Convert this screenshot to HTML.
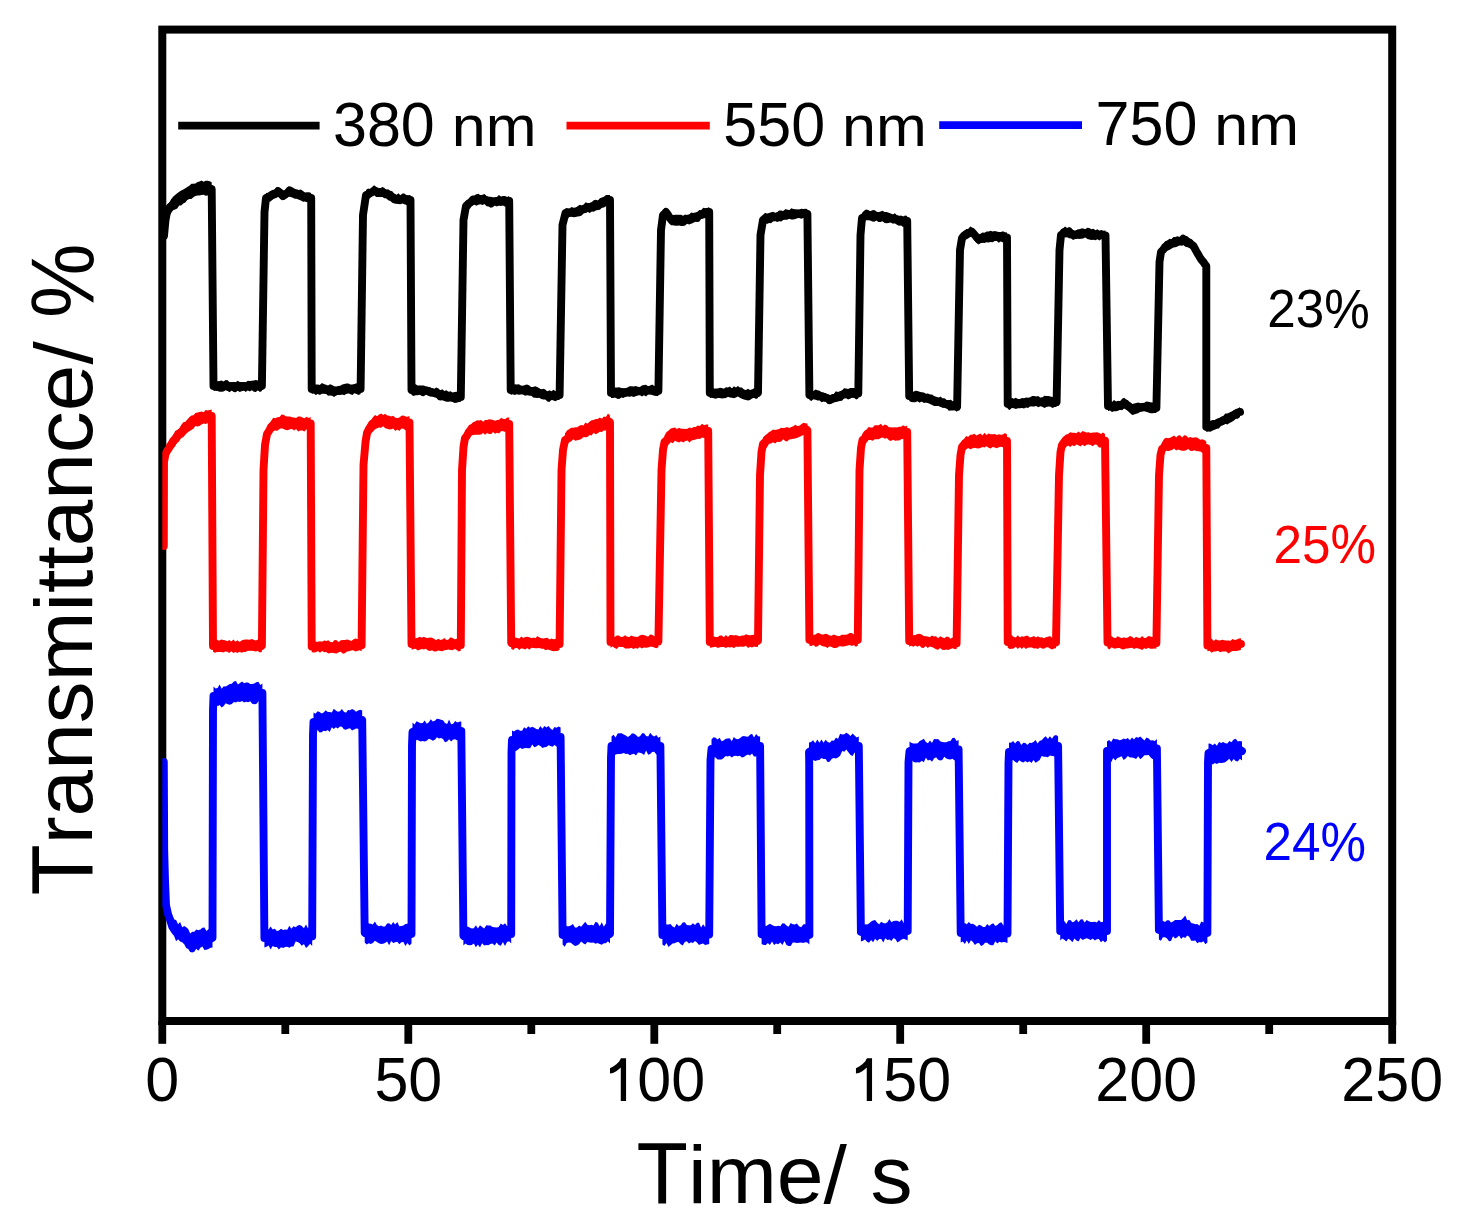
<!DOCTYPE html>
<html><head><meta charset="utf-8"><style>
html,body{margin:0;padding:0;background:#fff;overflow:hidden;width:1458px;height:1225px;}
svg{display:block;}
text{font-family:"Liberation Sans",sans-serif;font-kerning:none;}
</style></head><body>
<svg width="1458" height="1225" viewBox="0 0 1458 1225">
<rect width="1458" height="1225" fill="#fff"/>
<g fill="none" stroke="#000" stroke-width="8.0">
<rect x="162.3" y="29.6" width="1229.9" height="991.4"/>
</g>
<g stroke="#000" stroke-width="7.8" stroke-linecap="butt">
<line x1="162.3" y1="1021" x2="162.3" y2="1043.8"/><line x1="285.3" y1="1021" x2="285.3" y2="1034"/><line x1="408.3" y1="1021" x2="408.3" y2="1043.8"/><line x1="531.3" y1="1021" x2="531.3" y2="1034"/><line x1="654.3" y1="1021" x2="654.3" y2="1043.8"/><line x1="777.2" y1="1021" x2="777.2" y2="1034"/><line x1="900.2" y1="1021" x2="900.2" y2="1043.8"/><line x1="1023.2" y1="1021" x2="1023.2" y2="1034"/><line x1="1146.2" y1="1021" x2="1146.2" y2="1043.8"/><line x1="1269.2" y1="1021" x2="1269.2" y2="1034"/><line x1="1392.2" y1="1021" x2="1392.2" y2="1043.8"/>
</g>
<g font-size="61" fill="#000">
<text transform="translate(162.3 1101.1) scale(1 1.04)" text-anchor="middle">0</text><text transform="translate(408.3 1101.1) scale(1 1.04)" text-anchor="middle">50</text><polygon points="626.07,1101.10 620.77,1101.10 620.77,1067.50 618.87,1069.20 615.87,1071.50 612.87,1073.00 609.97,1073.60 609.97,1068.20 613.17,1066.60 616.37,1064.20 619.17,1061.40 620.97,1058.30 626.07,1058.30"/><text transform="translate(637.30 1101.1) scale(1 1.04)">00</text><polygon points="872.05,1101.10 866.75,1101.10 866.75,1067.50 864.85,1069.20 861.85,1071.50 858.85,1073.00 855.95,1073.60 855.95,1068.20 859.15,1066.60 862.35,1064.20 865.15,1061.40 866.95,1058.30 872.05,1058.30"/><text transform="translate(883.28 1101.1) scale(1 1.04)">50</text><text transform="translate(1146.2 1101.1) scale(1 1.04)" text-anchor="middle">200</text><text transform="translate(1392.2 1101.1) scale(1 1.04)" text-anchor="middle">250</text>
</g>
<text transform="translate(636.50 1202.90) scale(1 1.04)" font-size="84.2" fill="#000">T</text><text transform="translate(687.93 1202.90) scale(1 0.975)" font-size="84.2" fill="#000">ime</text><text transform="translate(823.61 1202.90) scale(1 0.977)" font-size="84.2" fill="#000">/</text><text transform="translate(870.39 1202.90) scale(1 0.975)" font-size="84.2" fill="#000">s</text>
<text transform="translate(92 895.5) rotate(-90) translate(0.00 0.0) scale(1 1.04)" font-size="83.8" fill="#000">T</text><text transform="translate(92 895.5) rotate(-90) translate(51.19 0.0) scale(1 0.975)" font-size="83.8" fill="#000">ransmittance</text><text transform="translate(92 895.5) rotate(-90) translate(530.91 0.0) scale(1 0.977)" font-size="83.8" fill="#000">/</text><text transform="translate(92 895.5) rotate(-90) translate(577.48 0.8) scale(1 1.07)" font-size="83.8" fill="#000">%</text>
<defs><clipPath id="pa"><rect x="162.3" y="29.6" width="1229.9" height="991.4"/></clipPath></defs>
<g clip-path="url(#pa)">
<g fill="none" stroke-width="7.9" stroke-linejoin="round" stroke-linecap="round">
<path stroke="#000" d="M164 236 L165.5 220 L167 212 L168.5 209.2 L170 207 L171.5 205.9 L173 204.5 L174.5 202.7 L176 201.5 L177.5 200.5 L179 199.5 L180.5 198.6 L182 197.5 L183.5 196.7 L185 195.2 L186.5 194.1 L188 193.5 L189.5 192.8 L191 191.6 L192.5 190.9 L194 189.8 L195.5 189 L197 189 L198.5 188.9 L200 188.3 L201.8 188.1 L203.5 188.8 L205.2 188.8 L207 188.5 L208.6 188.3 L210.1 188.5 L211.7 189 L213.5 386 L215.1 386 L216.8 386.4 L218.4 385.9 L220.1 385.8 L221.7 386 L223.3 386 L224.9 385.8 L226.5 386 L228.1 386.2 L229.6 386.3 L231.2 386.2 L232.8 386.3 L234.4 386.3 L236 386.6 L237.6 386.5 L239.2 386.3 L240.8 386 L242.4 386.6 L244.1 386.3 L245.7 386.3 L247.3 385.9 L248.9 386.5 L250.5 386 L252.1 386.3 L253.8 385.7 L255.4 385.9 L257 386.2 L258.6 386.2 L260.3 386.3 L261.9 386 L264.5 212 L266 198 L267.5 197.2 L269 196.8 L270.5 195.9 L272 194.9 L273.5 194.4 L275 193.6 L276.5 192.9 L278 191.5 L279.8 193.2 L281.7 194.3 L283.5 195.7 L285.3 194.5 L287.2 192.9 L289 192 L290.6 192.1 L292.1 192.9 L293.7 193 L295.3 193.4 L296.9 193.7 L298.4 194.5 L300 195 L302 196.1 L304 196.8 L305.8 197.2 L307.6 197.3 L309.4 197.7 L311.2 198 L311.7 389 L313.2 389 L314.8 389.2 L316.3 389 L317.9 388.9 L319.4 389 L321 388.6 L322.5 389 L324.1 388.9 L325.6 389.7 L327.2 390.1 L328.8 390.1 L330.3 390.2 L331.9 390.2 L333.4 390.8 L335 391 L336.6 391.2 L338.1 390.8 L339.7 390.4 L341.2 390.4 L342.8 389.7 L344.3 389.7 L345.9 389.8 L347.4 389.3 L349 389 L350.7 389 L352.3 388.8 L354 389 L355.6 389.4 L357.3 388.6 L358.9 389.2 L360.6 389 L363 215 L366 195 L367.6 194.5 L369.2 193.7 L370.8 192.8 L372.4 192 L374 191 L375.5 191.3 L377 191.7 L378.5 191.9 L380 191.9 L381.5 192.9 L383 193 L384.5 193 L386 193.6 L387.5 194.4 L389 195.2 L390.5 195.9 L392.1 196.7 L393.6 197.7 L395.1 198.6 L396.6 199.3 L398.3 199.4 L400.1 199.3 L401.8 198.9 L403.5 199.1 L405.3 199 L407 199.3 L408.8 199.7 L410.5 200 L411.5 390 L413.1 390.3 L414.8 390.2 L416.4 390.2 L418.1 390.3 L419.7 389.8 L421.4 390.3 L423 390 L424.5 390.5 L426 390.5 L427.5 390.8 L429 391.2 L430.5 392.2 L432 392.2 L433.5 392.5 L435 393.3 L436.5 393.5 L438 394 L439.6 394 L441.1 394.4 L442.7 395 L444.2 395.1 L445.8 395.5 L447.3 396.2 L448.9 396.3 L450.4 396.5 L452 397 L453.8 397 L455.5 396.6 L457.3 396.9 L459 396.9 L460.8 397 L463.5 220 L466 206 L467.5 204.5 L469 203.2 L470.5 202.6 L472 201 L473.7 200.7 L475.3 200.1 L477 200.1 L478.7 199.9 L480.3 198.9 L482 199 L483.5 199.1 L485 199.7 L486.5 200.6 L488 200.6 L489.5 201.5 L491 201.8 L492.7 201.8 L494.3 201.6 L496 201.2 L497.7 201.6 L499.3 201.4 L501 201 L502.6 201 L504.3 200.8 L505.9 201.1 L507.6 200.9 L509.2 201 L510.7 390 L512.3 390.1 L513.9 389.9 L515.5 390.1 L517.2 389.6 L518.8 389.8 L520.4 390.4 L522 390 L523.6 390.5 L525.1 390.3 L526.7 391 L528.2 390.7 L529.8 391.5 L531.3 391.5 L532.9 391.5 L534.4 391.6 L536 392 L537.6 392.1 L539.2 393.3 L540.9 393.1 L542.5 394.3 L544.1 394.9 L545.8 395.1 L547.4 395.2 L549 396 L550.5 396.2 L552 396.1 L553.5 395.7 L555.1 395.4 L556.6 395.2 L558.1 395 L559.6 395 L562.5 225 L565.5 213 L567.1 212.7 L568.7 212.9 L570.3 212.6 L571.9 212.4 L573.5 212.5 L575 211.7 L576.6 211.6 L578.1 210.8 L579.6 210.4 L581.2 209.7 L582.7 209.6 L584.3 209.1 L585.8 208.3 L587.3 207.5 L588.8 207.2 L590.4 206.8 L591.9 206.9 L593.4 206.3 L595 205.5 L596.5 205 L598 204.8 L599.7 204.1 L601.3 203.5 L603 202.7 L604.7 201.5 L606.3 201.1 L608 200 L610 200 L611 393 L612.7 393.1 L614.3 393 L616 393.4 L617.7 392.8 L619.3 393.2 L621 393 L622.6 392.5 L624.1 392.4 L625.7 392.8 L627.2 392 L628.8 392.3 L630.3 391.9 L631.9 392 L633.4 391.4 L635 391.3 L636.5 391.1 L638 390.9 L639.5 391.3 L641 391 L642.5 391.2 L644 391 L645.5 390.3 L647 390.5 L648.5 390.1 L650 390.3 L651.7 390.1 L653.4 390.2 L655 391 L656.7 391.1 L658.4 391 L661 230 L663 215 L664.5 213.8 L666 212 L667.5 214.1 L669 216.6 L670.5 219 L672 221 L673.5 220.8 L675 220.8 L676.5 220.4 L678 220.2 L679.5 220.2 L681 220.6 L682.5 220.2 L684.1 219.9 L685.7 219.8 L687.3 219 L688.9 218.5 L690.6 218.5 L692.2 218.1 L693.8 217.1 L695.4 217.2 L697 216.7 L698.7 215.6 L700.3 214.8 L702 214.7 L703.7 213.2 L705.3 212.6 L707 212 L709.2 212 L709.8 393 L711.3 393.4 L712.8 392.9 L714.4 392.7 L715.9 392.7 L717.4 392.8 L719 393.2 L720.5 392.7 L722 393 L723.6 393.2 L725.2 392.7 L726.8 393.1 L728.4 392.9 L730 392.3 L731.6 392.2 L733.2 392.3 L734.8 391.9 L736.4 392.2 L738 392 L739.6 392.2 L741.2 392.8 L742.8 394.2 L744.4 394.2 L746 395 L747.5 394.8 L749 394.5 L750.5 394.1 L752 393.7 L753.5 394.1 L755 393.9 L756.5 393.6 L758 393 L760.5 235 L763 220 L764.5 218.7 L766 218 L767.6 217.6 L769.1 217.8 L770.7 217.9 L772.3 217.3 L773.9 217.3 L775.4 217.1 L777 216.8 L778.5 216.3 L780 216.2 L781.5 215.7 L783 215.3 L784.5 214.8 L786 214.7 L787.5 214.9 L789 214.2 L790.6 214.1 L792.2 214.2 L793.8 214.1 L795.4 214.3 L796.9 213.8 L798.5 213.7 L800.1 213.6 L801.7 213.7 L803.6 213.7 L805.5 214.2 L807.4 214 L809.4 395 L811.1 395.3 L812.8 394.8 L814.6 394.9 L816.3 395 L818 395 L819.6 395.6 L821.1 396.2 L822.7 396.5 L824.2 396.9 L825.8 397.7 L827.4 398.1 L828.9 399.1 L830.5 399.6 L832.1 398.6 L833.6 398 L835.2 397.8 L836.8 396.8 L838.3 396.6 L839.9 395.7 L841.4 395.3 L843 394.4 L844.7 394 L846.3 394.1 L848 394.1 L849.7 393.4 L851.3 393.9 L853 393.4 L854.8 393.2 L856.5 393.7 L858.3 393.5 L860.5 235 L862 218 L864 216.9 L866 215 L867.5 215.4 L869.1 215.1 L870.6 215.1 L872.2 215.6 L873.7 215.7 L875.3 216.2 L876.9 215.9 L878.5 216.5 L880.1 216.1 L881.6 216.9 L883.2 216.4 L884.8 216.8 L886.4 217.4 L888 217.3 L889.6 217.9 L891.2 218.4 L892.8 218.8 L894.4 219.1 L896.1 219.5 L897.7 219.4 L899.3 220 L900.9 220.2 L902.5 220.9 L904.1 221.1 L905.6 221.1 L907.2 221 L909.2 396 L910.8 395.9 L912.5 395.9 L914.1 396.7 L915.7 396.6 L917.4 396.5 L919 396.6 L920.5 397 L922 397.6 L923.5 397.7 L925 398 L926.5 398.3 L928 398.7 L929.5 398.8 L931 399.6 L932.6 400.2 L934.2 400.6 L935.9 401.2 L937.5 401.3 L939.1 402 L940.8 402.4 L942.4 402.9 L944 403.7 L945.7 403.9 L947.3 404.7 L949 404.8 L950.7 405.2 L952.3 405.7 L954 406 L955.5 406.3 L957.1 407 L960 250 L962 238 L964 235.6 L966 234 L967.5 233.5 L969 233 L970.5 232.6 L972 232 L973.7 233.8 L975.4 235.8 L977 237.7 L978.7 239.3 L980.2 238.7 L981.8 238.5 L983.3 238.1 L984.9 237.5 L986.4 237.3 L987.9 237 L989.5 236.9 L991 236.2 L992.6 236.7 L994.1 236.3 L995.7 236.7 L997.2 236.3 L998.8 236.5 L1000.3 236.9 L1001.9 237.4 L1003.4 236.9 L1005 237.3 L1007 237.5 L1007.7 404 L1009.5 404.1 L1011.2 404.1 L1013 403.5 L1014.7 403.7 L1016.5 403.4 L1018.1 403.5 L1019.7 403 L1021.3 403.1 L1022.9 402.9 L1024.6 402.6 L1026.2 402.7 L1027.8 402.6 L1029.4 402.4 L1031 401.9 L1032.6 402 L1034.1 401.6 L1035.7 401.7 L1037.2 401.7 L1038.8 402 L1040.3 402.1 L1041.9 401.5 L1043.4 402 L1045 401.9 L1046.7 402.1 L1048.3 401.8 L1050 402 L1051.6 401.7 L1053.3 402.2 L1054.9 401.6 L1056.6 402 L1059.5 250 L1061 235 L1062.5 233.9 L1064 232 L1066 232.5 L1068 232.6 L1069.8 233.3 L1071.5 233.6 L1073.2 234.7 L1075 235 L1076.8 234.8 L1078.5 233.5 L1080.2 233.4 L1082 232.6 L1083.5 233.2 L1085 233.3 L1086.5 233.6 L1088.1 233.7 L1089.6 234.4 L1091.1 234.7 L1092.6 234.6 L1094.3 234.6 L1096.1 235 L1097.8 234.8 L1099.5 234.7 L1101.3 235 L1103 235.2 L1105.5 235.5 L1108 406 L1109.6 405.7 L1111.1 406.3 L1112.7 406.4 L1114.3 405.7 L1115.9 406.1 L1117.4 405.9 L1119 406 L1120.5 405.1 L1122 404.6 L1123.5 403.9 L1125 403.5 L1126.8 405.1 L1128.5 405.9 L1130.2 407.4 L1132 409 L1133.5 408.7 L1135 408.1 L1136.5 408.4 L1138 408.1 L1139.5 408 L1141 407.3 L1142.5 407.1 L1144 407 L1145.5 407.2 L1147.1 407.1 L1148.7 407.4 L1150.2 407.3 L1151.8 407.8 L1153.3 408 L1154.9 408.1 L1156.4 408 L1159.5 262 L1161 252 L1163 249.9 L1165 247 L1166.8 245.5 L1168.7 244 L1170.5 243.5 L1172.3 243.3 L1174.2 242.7 L1176 242 L1177.8 241.6 L1179.5 241.1 L1181.2 240.6 L1183 240.3 L1184.8 240.7 L1186.5 241.9 L1188.2 242 L1190 243 L1191.7 244.7 L1193.4 246 L1195 248.8 L1196.7 252 L1198.3 254.6 L1200 257.6 L1201.6 260 L1203.2 261.7 L1204.7 264 L1206.3 266 L1206.3 427 L1208.2 427.1 L1210 427 L1212 425.8 L1214 425 L1215.5 424.3 L1217 423.5 L1218.5 422.9 L1220 421.8 L1221.5 421.4 L1223 420.7 L1224.5 419.9 L1226 419.3 L1227.6 418.4 L1229.1 417.9 L1230.7 417 L1232.2 416 L1233.8 415.4 L1235.3 414.3 L1236.9 413.4 L1238.4 412.4 L1240 412"/>
<path stroke="#f00" d="M163.8 546 L164 462 L165.5 454 L167 451 L168.5 449 L170 446 L171.7 444.2 L173.3 440.8 L175 439 L176.7 436.5 L178.3 435.4 L180 433 L181.7 431.6 L183.3 429.9 L185 428 L186.7 426.4 L188.3 425.5 L190 424 L191.7 423 L193.3 421.8 L195 420.5 L196.7 419.4 L198.3 419.1 L200 418.5 L201.8 418 L203.5 418 L205.2 418 L207 417 L208.6 417.2 L210.1 416.4 L211.7 416 L213 646 L214.7 645.8 L216.5 645.5 L218.2 645.1 L220 645 L221.7 645.5 L223.3 645.6 L225 645.5 L226.6 645.7 L228.2 646.5 L229.8 646.1 L231.5 646.3 L233.1 646 L234.7 645.9 L236.4 646.4 L238 646.7 L239.6 646.2 L241.2 646.5 L242.9 647 L244.5 646.5 L246.1 645.8 L247.7 646.5 L249.4 646.3 L251 646.1 L252.6 645.7 L254.1 646.2 L255.7 646.1 L257.2 646.2 L258.8 645.7 L260.3 646.5 L261.9 646 L263.5 470 L265 445 L267 434 L269 431.1 L271 427 L272.5 425.6 L274 425.3 L275.5 424.3 L277 423 L278.6 422.7 L280.2 422.5 L281.9 422.2 L283.5 422 L285 422.7 L286.5 422.4 L288 422.9 L289.5 422.6 L291 423.4 L292.5 423.6 L294 423.2 L295.5 423.5 L297 424.1 L298.5 424.1 L300 424 L301.6 423.9 L303.2 423.5 L304.8 423.5 L306.4 423.9 L308 423.6 L310.7 423.5 L311.7 646.5 L313.3 646.1 L314.9 646.9 L316.5 646.1 L318.1 646.9 L319.8 646.1 L321.4 646.9 L323 646.6 L324.6 646.3 L326.2 646.4 L327.8 646.5 L329.4 646.8 L331 646.8 L332.6 646.6 L334.2 646.6 L335.8 647.1 L337.4 647.7 L339 647.3 L340.6 647.2 L342.2 646.3 L343.8 647 L345.4 646.6 L347 646.6 L348.6 645.5 L350.2 646 L351.8 644.9 L353.4 645.2 L355 645.4 L356.7 645 L358.3 645.1 L360 645.9 L361.6 645.5 L363.5 465 L365.5 442 L367 433 L368.7 429.5 L370.3 427 L372 424 L373.7 423.8 L375.3 422.4 L377 421.7 L378.7 421.8 L380.3 420.6 L382 420 L383.6 420.7 L385.2 420.3 L386.9 421.1 L388.5 421.3 L390.1 422.3 L391.7 422 L393.4 423.4 L395 422.7 L396.6 423.7 L398.3 423.8 L400.1 422.8 L401.8 422.9 L403.5 423.3 L405.3 422.4 L407 422.6 L409.5 422.5 L411.5 644 L413.2 643.6 L414.9 644.1 L416.6 643.7 L418.3 643.3 L420 644.4 L421.7 643.3 L423.4 643.7 L425 643.3 L426.6 643.8 L428.2 644.3 L429.8 644.7 L431.4 644.1 L433 644.5 L434.6 644.3 L436.2 645 L437.8 645.2 L439.4 645.4 L441 645.3 L442.5 645.3 L444.1 645.1 L445.7 645.1 L447.3 644.8 L448.8 644.4 L450.4 644 L452 644.2 L453.8 644.6 L455.5 644.3 L457.3 644.2 L459 644.8 L460.8 645 L462 470 L463.5 447 L465 438 L466.9 435.8 L468.7 432.2 L470.6 430 L472.5 429.5 L474.3 428.6 L476.1 428.1 L478 427.5 L479.8 426.9 L481.5 427.8 L483.2 426.8 L485 427 L486.5 427 L488 426.7 L489.5 426 L491 426.6 L492.5 425.9 L494 425.7 L495.5 425.6 L497 426 L498.5 425.3 L500 424.9 L501.5 425.3 L503.1 424.9 L504.6 425.2 L506.1 424.8 L507.6 424 L509.2 424 L511.2 643 L512.7 643.6 L514.3 642.7 L515.8 643 L517.4 642.8 L518.9 643.3 L520.5 643.3 L522 643.2 L523.6 643.5 L525.2 643.3 L526.8 642.7 L528.4 642.9 L530 643 L531.6 642.3 L533.2 642.3 L534.8 642.6 L536.4 642.7 L538 642.5 L539.6 643.4 L541.2 643.1 L542.8 643.1 L544.4 643.4 L546 643.7 L547.6 643.9 L549.2 644.5 L550.8 644.7 L552.6 644.5 L554.3 644.2 L556.1 644.5 L557.8 643.8 L559.6 644 L561.5 470 L563 450 L565 440 L566.6 439 L568.2 437.6 L569.8 435.8 L571.4 434 L573 433.5 L574.7 433.2 L576.3 432.9 L578 431.9 L579.6 432 L581.2 431.3 L582.8 430.9 L584.4 430 L586 429.3 L587.6 429.6 L589.2 428.5 L590.8 428.1 L592.4 428.1 L594 427 L595.7 426.6 L597.3 425.7 L599 426.1 L600.7 424.8 L602.3 423.9 L604 424 L606.2 422.7 L608.4 421 L610 422 L610.5 642 L612.2 641.6 L613.9 641.8 L615.6 642.5 L617.4 642.3 L619.1 641.6 L620.8 642.2 L622.4 642.1 L624 642.1 L625.6 642.2 L627.2 641.8 L628.8 642.3 L630.4 641.7 L632 641.9 L633.6 642 L635.2 642.2 L636.8 642.6 L638.4 641.5 L640 642.2 L641.6 641.4 L643.2 641.7 L644.8 641.4 L646.4 641.4 L648 641.6 L649.6 641.2 L651.4 641.1 L653.1 640.9 L654.9 640.9 L656.6 640.9 L658.4 641.5 L661.5 470 L663 450 L664.5 442 L666.3 440.4 L668.2 438.2 L670 436 L671.5 436.3 L673 435.7 L674.5 434.7 L676 435 L677.6 435.1 L679.3 435.2 L680.9 435.1 L682.5 434.8 L684.2 434.6 L685.8 434.6 L687.4 435 L689.1 434.3 L690.7 434.5 L692.2 434.1 L693.8 433.5 L695.3 433.7 L696.9 433 L698.4 432.7 L699.9 432.1 L701.5 431 L703 430.8 L704.7 430.5 L706.5 430.9 L708.2 431 L709.8 642 L711.5 641.7 L713.2 641.9 L714.9 642.2 L716.5 642.5 L718.2 642.1 L719.9 642.4 L721.6 642 L723.2 641.4 L724.9 641.6 L726.5 642.3 L728.2 641.2 L729.8 641.4 L731.4 640.9 L733.1 640.8 L734.7 641.7 L736.4 641.7 L738 641 L739.5 641.2 L741 640.6 L742.5 640.8 L744 640.7 L745.5 641.2 L747 641.2 L748.5 640.9 L750 641 L751.6 641 L753.2 640.5 L754.8 641 L756.4 641.5 L758 641 L760 475 L761.5 452 L763 444 L764.9 442.3 L766.9 439.5 L768.8 438 L770.3 437.5 L771.8 437.3 L773.4 436.2 L774.9 436.5 L776.4 435.5 L778 435.2 L779.5 434.4 L781 434 L782.7 434.6 L784.3 434.3 L786 434.1 L787.7 433.6 L789.3 433.9 L791 434 L792.5 432.9 L794 433.1 L795.5 433 L797 431.6 L798.5 431.5 L800 431 L801.9 429.5 L803.8 428 L805.6 428.9 L807.4 430 L809.4 640 L810.9 640.3 L812.5 640.5 L814 640.2 L815.6 640 L817.1 640.6 L818.7 639.8 L820.2 640 L821.8 640.5 L823.3 640.6 L824.9 641 L826.4 641.3 L828 640.7 L829.5 641.4 L831.1 641.4 L832.6 641.7 L834.2 641.7 L835.8 641.8 L837.4 641.2 L839 640.2 L840.6 640.5 L842.2 640.6 L843.8 640.6 L845.4 640.1 L847 639.7 L848.5 640.1 L850.1 639.2 L851.6 640.4 L853.2 640.1 L854.7 640 L856.3 640.4 L857.8 640 L859.5 470 L861 448 L862.5 440 L864.2 438.8 L865.9 436.2 L867.6 435 L869.1 434.9 L870.7 434.4 L872.2 433.3 L873.8 433.5 L875.4 432.9 L876.9 431.9 L878.5 432.2 L880 431.4 L881.5 431.2 L883 432.1 L884.5 432.1 L886 432.2 L887.5 432.8 L889 432.9 L890.5 432.9 L892 433.5 L893.6 433.8 L895.1 432.6 L896.7 432.3 L898.3 432.6 L899.9 432.8 L901.5 432.4 L903 432.3 L904.6 431.8 L907.2 432 L909.2 641 L910.9 640.9 L912.6 641.1 L914.3 640.7 L915.9 640.5 L917.6 640.8 L919.3 640.2 L921 640.7 L922.6 640.4 L924.2 641.4 L925.8 641 L927.4 641.9 L929.1 642.2 L930.7 641.9 L932.3 642.5 L933.9 642.8 L935.5 642.7 L937 643.3 L938.6 642.5 L940.1 642.7 L941.6 643.1 L943.2 643.3 L944.7 643.2 L946.3 643 L947.8 643.7 L949.6 643.7 L951.3 644.2 L953.1 643.4 L954.8 643.6 L956.6 643.5 L959 475 L960.5 455 L962 447 L963.6 444.9 L965.3 443 L966.9 442.6 L968.5 442.9 L970.1 441.9 L971.8 442 L973.4 441.6 L975 441.3 L976.6 441 L978.3 441.4 L980.1 440.4 L981.8 441.2 L983.5 440.5 L985.3 440.8 L987 440.6 L988.6 441 L990.1 440.9 L991.7 440.6 L993.2 441.2 L994.8 440.3 L996.3 441 L997.9 440.8 L999.4 441 L1001 441 L1002.5 441.4 L1004 441.4 L1005.5 441.2 L1007 441 L1007.7 642 L1009.3 641.8 L1010.9 641.7 L1012.5 642 L1014.2 641.8 L1015.8 641.9 L1017.4 642.7 L1019 641.7 L1020.6 642.2 L1022.2 642.6 L1023.9 642.2 L1025.5 642.2 L1027.2 642.2 L1028.8 641.9 L1030.4 642.4 L1032.1 642.1 L1033.7 642.5 L1035.4 642.4 L1037 642.7 L1038.5 643.2 L1040.1 643.2 L1041.7 642.6 L1043.2 642.9 L1044.8 643.2 L1046.3 642.5 L1047.9 642.2 L1049.4 642.7 L1051.1 642.3 L1052.7 642.2 L1054.3 642.8 L1056 642.5 L1059 475 L1060.5 452 L1062 445 L1063.9 442.3 L1065.8 440 L1067.3 439.7 L1068.8 440 L1070.4 439.2 L1071.9 439.7 L1073.4 439.3 L1075 438.8 L1076.5 439.2 L1078 438.6 L1079.5 438.4 L1081 439.1 L1082.5 439.1 L1084 438.6 L1085.5 438.8 L1087 439.1 L1088.5 438.9 L1090 438.6 L1091.6 439.1 L1093.2 439.4 L1094.9 439.6 L1096.5 439.6 L1098.1 440 L1099.8 439.4 L1101.4 440 L1103 440 L1105 440.5 L1107.5 642.5 L1109.2 642.7 L1110.9 642.4 L1112.6 642.5 L1114.2 642.2 L1115.9 643.2 L1117.6 642.5 L1119.3 642.7 L1120.9 642.7 L1122.5 643.3 L1124.1 642.5 L1125.7 643.5 L1127.3 642.5 L1128.9 642.5 L1130.5 642.9 L1132.1 643 L1133.7 643.2 L1135.3 643.6 L1136.9 643.5 L1138.5 643.3 L1140.1 642.9 L1141.6 643 L1143.2 642.6 L1144.8 643.2 L1146.4 642.6 L1148 642.7 L1149.7 642.5 L1151.4 643 L1153 642.5 L1154.7 642.7 L1156.4 643 L1159 475 L1160.5 455 L1162 449 L1163.6 447.8 L1165.1 445.2 L1166.7 444 L1168.4 443.4 L1170.1 443.2 L1171.8 443.1 L1173.6 443 L1175.3 442.6 L1177 442.7 L1178.5 442.6 L1180 442.5 L1181.5 442.6 L1183 443.1 L1184.5 442.8 L1186 442.9 L1187.5 443.5 L1189 443.2 L1190.5 442.8 L1192 443 L1193.5 444 L1195 443.6 L1196.5 444.2 L1198 444 L1199.5 444.5 L1201 445.8 L1202.8 446.6 L1204.5 447.7 L1206.3 448 L1207.4 645.5 L1209.1 645.3 L1210.8 645.9 L1212.6 645.8 L1214.3 645.5 L1216 645.7 L1217.5 646.4 L1219.1 645.8 L1220.7 646 L1222.2 646.3 L1223.8 646.1 L1225.3 646.9 L1226.9 646.7 L1228.4 646.7 L1230.1 646.4 L1231.8 645.9 L1233.6 646 L1235.3 645.6 L1237 645 L1238.7 644.2 L1241 644"/>
<path stroke="#00f" d="M163.8 762 L164.2 850 L165 880 L166 905 L168 914 L170.2 920 L172.3 926.8 L174 928.3 L175.6 929.4 L177.3 931.2 L178.9 932.7 L180.6 933.9 L182.3 934.6 L184 935.9 L185.8 938.6 L187.5 939 L189.2 940.4 L190.9 942.2 L192.6 942.3 L194.3 940.8 L195.9 940.7 L197.6 939.5 L199.3 939.1 L201 938.2 L202.7 937.7 L204.4 938.6 L206 939 L207.7 938.6 L209.4 938.6 L210.9 938.7 L212.5 938 L213 710 L213.5 696 L215.1 696.2 L216.8 695.2 L218.4 696.2 L220.1 695.9 L221.7 695.7 L223.3 695 L225 694.2 L226.6 695.2 L228.2 694.2 L229.8 694.2 L231.5 694.1 L233.1 693.5 L234.7 693.4 L236.4 692.2 L238 692 L239.5 692.6 L241 692.1 L242.5 693 L244 692.9 L245.5 691.8 L247 691.9 L248.5 692.6 L250.1 692.1 L251.7 693.3 L253.2 692.5 L254.8 692.8 L256.4 692.3 L258 692.6 L260.2 692.8 L262.4 693 L264.4 938 L266 937.9 L267.7 937.9 L269.4 938.3 L271 938.2 L272.6 938.5 L274.1 939.1 L275.7 938.9 L277.2 939.4 L278.8 939.4 L280.4 939.7 L281.9 939.3 L283.5 939.2 L285 938.1 L286.6 938.6 L288.1 938.2 L289.6 937.5 L291.2 936.4 L292.7 936 L294.3 934.6 L295.8 934.5 L297.3 935.3 L298.9 935.1 L300.4 934.9 L301.9 934.9 L303.4 936.4 L304.9 936.9 L306.5 935.7 L308 936.6 L310.1 937 L312.2 936.5 L313 735 L313.5 722 L315.1 721.8 L316.7 721.3 L318.3 721.4 L319.8 722.1 L321.4 722.2 L323 720.8 L324.6 721.4 L326.3 721.2 L328.1 719.8 L329.8 720.5 L331.5 719.5 L333.3 719.9 L335 718.9 L336.6 719.8 L338.2 719.2 L339.8 720.1 L341.4 719.2 L343 719 L344.6 720 L346.2 719.2 L347.8 719.6 L349.4 720.1 L351 720.4 L352.6 720.5 L354.2 719.7 L355.8 719.5 L357.4 720.8 L359 719.8 L360.6 720.8 L362.2 720 L364.7 933 L366.3 933.6 L367.9 932.8 L369.5 932.9 L371.2 933 L372.8 933.2 L374.4 933.2 L376 933 L377.7 933.3 L379.4 933.5 L381.1 934.2 L382.9 933.7 L384.6 933.7 L386.3 934 L388 934.3 L389.7 933.4 L391.5 933.4 L393.2 934.4 L394.9 933.6 L396.6 933.5 L398.3 933.7 L400.1 933.1 L401.8 933.9 L403.5 934.3 L405.3 933.6 L407 934.5 L408.5 934.5 L410 934.4 L411.5 934 L412 745 L412.5 732 L414 731.2 L415.5 731.9 L417 731.6 L418.5 731.8 L420 731.1 L421.5 731.6 L423 731.5 L424.5 730.2 L426 730.1 L427.5 730.7 L429.2 730.9 L430.9 731.2 L432.6 730 L434.4 730.2 L436.1 730.3 L437.8 730 L439.3 729.9 L440.9 730.1 L442.4 730.2 L444 730.4 L445.5 730.9 L447.1 730.6 L448.6 730.9 L450.1 731.6 L451.7 730.6 L453.2 731.6 L454.8 732 L456.3 731.8 L458 731.2 L459.6 730.8 L461.3 731 L463.4 936 L464.9 936.6 L466.5 935.8 L468 935.8 L469.5 936.3 L471.1 936.8 L472.6 936.6 L474.2 935.8 L475.7 936.1 L477.2 936 L478.8 936.6 L480.4 935.9 L481.9 936.4 L483.4 935.2 L485 935.6 L486.7 935.2 L488.4 935.6 L490.1 935.9 L491.9 935.1 L493.6 934.7 L495.3 935 L497 934.2 L498.7 934.7 L500.5 934 L502.2 934.8 L503.9 934.7 L505.6 934 L507.5 933.5 L509.3 933.6 L511.2 934 L511.5 752 L512 740 L513.7 740.3 L515.3 739.8 L517 739.8 L518.7 738.8 L520.3 738.2 L522 738.6 L523.6 738.1 L525.2 738.7 L526.8 737.7 L528.4 737.6 L530 737.6 L531.6 737.4 L533.2 737.2 L534.8 737.9 L536.4 737 L538 736.5 L539.5 736.4 L541 738 L542.6 737.9 L544.2 738.2 L545.7 737.5 L547.4 737.3 L549 738.1 L550.7 738 L552.4 736.8 L554 737.6 L555.7 737.7 L557.3 737.3 L559 737 L560.6 737 L562.6 935 L564.2 935.1 L565.7 934.8 L567.3 935 L568.8 934.8 L570.4 934.7 L571.9 935.6 L573.5 935.5 L575.2 934.8 L576.9 935.3 L578.6 933.8 L580.3 934.8 L582 934.1 L583.7 933.5 L585.4 934.1 L587.1 934 L588.9 933.9 L590.6 933.3 L592.3 932.3 L594 933 L595.7 933.6 L597.4 932.8 L599.1 933.2 L600.9 933.9 L602.6 933.9 L604.3 934 L606.2 933.9 L608.1 934.7 L610 934 L611 757 L611.5 746 L613 745.9 L614.6 745.2 L616.1 744.8 L617.7 745.4 L619.2 744.5 L620.8 744.3 L622.3 744.8 L623.9 744.2 L625.4 744.1 L626.9 744.7 L628.5 745.2 L630 744.8 L631.6 744.1 L633.2 745 L634.8 745.1 L636.4 744.7 L638 744.6 L639.5 743.2 L641.1 744.1 L642.7 744.3 L644.3 742.9 L645.9 743.1 L647.5 743.3 L649.1 743.3 L650.6 744 L652.2 744.2 L653.8 744.6 L655.3 745.4 L656.9 744.5 L658.4 745 L660 746 L660.4 746 L662.4 935 L664.1 934.5 L665.8 934.5 L667.5 934.5 L669.2 936 L670.9 935.9 L672.6 934.8 L674.3 935.5 L675.8 935.2 L677.4 934.6 L678.9 934.3 L680.5 934 L682 934.2 L683.5 933.8 L685.1 933.1 L686.6 933 L688.2 932.7 L689.8 933.1 L691.4 932.9 L693 933.8 L694.6 934.2 L696.2 933.8 L697.8 933.5 L699.4 933.8 L701 934.5 L702.6 934.3 L704.3 934.7 L705.9 935 L707.6 934.3 L709.2 934.5 L710.5 760 L711.5 749 L713.1 749.3 L714.7 748.9 L716.3 748.5 L717.9 748.2 L719.5 748.3 L721 748.3 L722.5 748.6 L724 748.2 L725.5 748.6 L727 748.3 L728.5 747.9 L730 748.4 L731.5 748.7 L733 747.7 L734.5 748.3 L736 748.4 L737.7 747.7 L739.4 747.8 L741.1 747.3 L742.9 745.8 L744.6 746 L746.3 744.8 L747.8 745.4 L749.4 744.7 L750.9 745.1 L752.4 744.7 L754 746 L755.5 745.9 L757 746.4 L758.6 746.3 L760.1 746 L761.6 934.5 L763.1 934.8 L764.7 934.9 L766.2 934.6 L767.8 933.9 L769.4 934.6 L770.9 934.5 L772.5 933.7 L774.1 933.8 L775.7 934.8 L777.3 933.5 L778.9 933.6 L780.5 933.5 L782.1 934.7 L783.7 933.5 L785.3 934 L786.9 933.4 L788.5 934.9 L790.1 933.9 L791.7 935.2 L793.3 935.1 L794.9 935.5 L796.5 935.9 L798.1 935.5 L799.7 935.5 L801.3 935.9 L802.9 934.6 L804.5 935.7 L806.2 935.2 L807.8 935.4 L809.4 935 L809.2 762 L809 752 L810.7 751.1 L812.3 751.9 L814 751.9 L815.6 750.3 L817.3 750.5 L819 750.6 L820.6 750.8 L822.3 750 L823.9 749.9 L825.6 750.1 L827.2 750.6 L828.9 751.5 L830.5 751.6 L832.1 750.9 L833.7 749.2 L835.3 748.1 L836.9 747 L838.6 745.9 L840.2 744.9 L841.8 743.2 L843.4 742.8 L845 741.7 L846.7 743.1 L848.3 742.8 L850 744 L851.7 743.7 L853.3 745.2 L855 745.5 L856.9 746.2 L858.8 746 L860.9 932 L862.4 932.3 L864 932 L865.5 932 L867.1 932.2 L868.6 932.6 L870.2 931.4 L871.7 932 L873.3 931.2 L875 932.1 L876.6 932.2 L878.2 931.4 L879.9 931.1 L881.5 931.4 L883.1 930.4 L884.7 930.3 L886.4 930.1 L888 930.4 L889.6 930.6 L891.2 930.2 L892.8 930.2 L894.4 931 L896.1 931.5 L897.7 930.5 L899.3 931.2 L900.9 930.8 L902.5 931 L904.2 931.6 L906 931.1 L907.7 931 L908.5 762 L909.5 751 L911.1 750.6 L912.8 750.4 L914.4 750.1 L916.1 750.7 L917.7 750.5 L919.4 750.1 L921 750.6 L922.6 750.3 L924.2 750.2 L925.8 750.9 L927.4 749.9 L929.1 751.2 L930.7 750.3 L932.3 750.4 L933.9 750.2 L935.5 750.2 L937 750.6 L938.5 750.5 L940 750 L941.5 749.8 L943 750.1 L944.5 750.2 L946 749.3 L947.5 749.8 L949 750 L950.5 749.1 L952 749.1 L953.6 748.8 L955.3 748.9 L957 749.7 L958.6 749.5 L960.7 933 L962.3 933.2 L964 933.6 L965.6 933.3 L967.2 932.3 L968.9 932.1 L970.5 932.5 L972.2 932.7 L973.9 933.2 L975.6 934.6 L977.3 935.4 L979 936.1 L980.7 936 L982.3 935.3 L983.9 936 L985.5 934.9 L987.1 934.8 L988.6 935 L990.2 933.7 L991.8 933.4 L993.4 934.3 L995 933.5 L996.6 933.2 L998.1 933.3 L999.7 933.6 L1001.2 933.8 L1002.8 932.7 L1004.4 933.2 L1005.9 933.4 L1007.5 933.5 L1008.5 763 L1009 752 L1010.7 752.1 L1012.3 751.7 L1014 752.4 L1015.6 753.1 L1017.3 752.3 L1018.9 752.7 L1020.6 752.7 L1022.2 752 L1023.8 752.1 L1025.4 752.6 L1027 751.6 L1028.6 752.8 L1030.2 752.7 L1031.8 751.3 L1033.4 752.5 L1035 751.7 L1036.5 750.8 L1038.1 750.8 L1039.6 750.2 L1041.2 748.8 L1042.7 748.7 L1044.2 748 L1045.8 747.6 L1047.3 746.5 L1049 746 L1050.7 746.7 L1052.4 747 L1054.2 746.4 L1055.9 746.1 L1057.6 746 L1058.1 746 L1060.2 931 L1061.8 930.4 L1063.5 931 L1065.1 930.8 L1066.7 931.3 L1068.4 931.3 L1070 931 L1071.6 931 L1073.2 930.4 L1074.8 931 L1076.4 930.9 L1078 930.2 L1079.6 931.2 L1081.2 930.8 L1082.8 929.9 L1084.4 930.4 L1085.9 931.2 L1087.5 930 L1089 930.4 L1090.6 931.1 L1092.1 930.9 L1093.6 930.9 L1095.2 931.2 L1096.7 931 L1098.4 930.9 L1100.1 930.7 L1101.8 930.5 L1103.6 930.3 L1105.3 931.3 L1107 931 L1107 760 L1107 751 L1108.7 751.2 L1110.4 750.6 L1112.2 750.7 L1113.9 749.8 L1115.6 749.5 L1117.3 749.6 L1118.9 749.2 L1120.6 749.8 L1122.2 748.3 L1123.9 748.8 L1125.5 748.2 L1127.1 748.8 L1128.8 748 L1130.4 747.7 L1132.1 747.6 L1133.7 747.6 L1135.2 747.7 L1136.8 748.1 L1138.3 747.5 L1139.8 748.3 L1141.3 747.1 L1142.8 747.4 L1144.4 747.2 L1145.9 747.2 L1147.4 748.3 L1149 748.3 L1150.5 747.5 L1152 748 L1153.6 747.7 L1155.3 748.2 L1156.9 748.5 L1158.9 930 L1160.5 930.4 L1162.2 930.5 L1163.8 930.4 L1165.4 930.1 L1167.1 929.4 L1168.7 930 L1170.2 929.6 L1171.7 929 L1173.2 929.2 L1174.7 929 L1176.2 928.2 L1177.7 928 L1179.2 928.5 L1180.7 927.1 L1182.2 928 L1183.7 927.9 L1185.2 927 L1186.7 928.5 L1188.3 928.4 L1189.8 929.5 L1191.3 930.4 L1192.9 931.3 L1194.4 932.6 L1196 933 L1197.5 933.5 L1199.2 933.1 L1200.8 933.9 L1202.5 933.2 L1204.1 933.3 L1205.8 933.4 L1207.4 933 L1208 762 L1208.5 753 L1210 752.3 L1211.5 753.7 L1213 753.7 L1214.5 753.5 L1216 753.7 L1217.7 753.5 L1219.4 753.1 L1221.2 752.5 L1222.9 752.7 L1224.6 751.7 L1226.3 752.2 L1228 751.8 L1229.7 751.6 L1231.4 750.8 L1233.2 750.6 L1234.9 750.8 L1236.6 749.6 L1238.4 750.7 L1240.2 750 L1242 751"/>
</g>
<g stroke="none">
<path fill="#000" d="M167 205.2 L169 202.9 L171.1 199.2 L173.1 196.8 L175.1 195.1 L177.2 193.3 L179.2 191.7 L181.2 190.4 L183.3 189.6 L185.3 188.2 L187.3 187 L189.3 185.8 L191.4 183.8 L193.4 183.8 L195.4 183.5 L197.5 181.9 L199.5 181.5 L201.5 180.5 L203.6 181.7 L205.6 180.7 L207.6 180.7 L209.7 181.3 L211.7 182.2 L211.7 195.8 L209.7 194.5 L207.6 195.5 L205.6 195.7 L203.6 194.8 L201.5 195 L199.5 195.5 L197.5 195.5 L195.4 196 L193.4 197.3 L191.4 198.9 L189.3 199 L187.3 200.1 L185.3 202.4 L183.3 203.4 L181.2 205.4 L179.2 205.4 L177.2 208.5 L175.1 209.5 L173.1 210.3 L171.1 213.1 L169 216.3 L167 218.8ZM213.5 381 L215.5 381.5 L217.5 381.3 L219.6 381 L221.6 380.6 L223.6 381.5 L225.6 380.1 L227.6 380.2 L229.6 382.3 L231.6 382.2 L233.7 382 L235.7 382.3 L237.7 380.7 L239.7 382.1 L241.7 382.2 L243.8 382.1 L245.8 382.2 L247.8 380.8 L249.8 381.1 L251.8 380.7 L253.8 380.5 L255.8 380.1 L257.9 380.5 L259.9 380.1 L261.9 381 L261.9 391 L259.9 392.1 L257.9 390.3 L255.8 392 L253.8 391.7 L251.8 390 L249.8 391.4 L247.8 390.2 L245.8 392 L243.8 390.5 L241.7 391.2 L239.7 392 L237.7 390.8 L235.7 392.2 L233.7 392.1 L231.6 390.6 L229.6 392.2 L227.6 390.9 L225.6 390.2 L223.6 391.5 L221.6 391.8 L219.6 391.8 L217.5 390.9 L215.5 390.7 L213.5 391ZM266 193 L268.1 192.8 L270.1 191.3 L272.2 189.9 L274.2 189.7 L276.3 187.2 L278.3 186.9 L280.4 188 L282.4 189.4 L284.5 190.9 L286.5 187.7 L288.6 186.3 L290.7 186.5 L292.7 187.5 L294.8 188.7 L296.8 189.4 L298.9 190 L300.9 189.6 L303 190.9 L305 192.5 L307.1 192.2 L309.1 192.2 L311.2 193 L311.2 203 L309.1 201.6 L307.1 202.2 L305 201.4 L303 201.7 L300.9 200.5 L298.9 199.8 L296.8 198.7 L294.8 198.7 L292.7 197.7 L290.7 197 L288.6 196.5 L286.5 198 L284.5 199.8 L282.4 200.3 L280.4 199.3 L278.3 196.8 L276.3 198.1 L274.2 198.4 L272.2 200.1 L270.1 201.8 L268.1 200.9 L266 203ZM311.7 384 L313.7 384.4 L315.8 384.5 L317.8 384.6 L319.9 385.1 L321.9 383 L323.9 384.1 L326 384.8 L328 385.4 L330 384.2 L332.1 385 L334.1 386.3 L336.1 386.5 L338.2 386.1 L340.2 385.7 L342.3 384.4 L344.3 384 L346.3 383.5 L348.4 383.4 L350.4 384.5 L352.5 384.4 L354.5 383.9 L356.5 383.3 L358.6 384.5 L360.6 384 L360.6 394 L358.6 394.9 L356.5 394 L354.5 393 L352.5 394.9 L350.4 394.2 L348.4 393.3 L346.3 393.8 L344.3 395.3 L342.3 394.4 L340.2 395.1 L338.2 394.8 L336.1 395.5 L334.1 396.9 L332.1 395.8 L330 395.6 L328 395.7 L326 393.8 L323.9 393.7 L321.9 393.8 L319.9 394.9 L317.8 393.9 L315.8 395 L313.7 393.5 L311.7 394ZM366 190 L368 188.6 L370 188.9 L372.1 186.9 L374.1 185.2 L376.1 186.7 L378.1 188 L380.2 188.4 L382.2 187 L384.2 187.7 L386.2 189.8 L388.2 189.2 L390.3 190.7 L392.3 191.2 L394.3 194 L396.3 195.1 L398.4 193.3 L400.4 195.2 L402.4 193.6 L404.4 193.6 L406.5 195.2 L408.5 195.2 L410.5 195 L410.5 205 L408.5 205.2 L406.5 205.1 L404.4 204.2 L402.4 203.5 L400.4 204.2 L398.4 203.9 L396.3 203.8 L394.3 203.6 L392.3 202.8 L390.3 201 L388.2 200.3 L386.2 198.3 L384.2 198.3 L382.2 196.8 L380.2 197.1 L378.1 197.1 L376.1 196.9 L374.1 195 L372.1 196.1 L370 198.1 L368 199.9 L366 200ZM411.5 385 L413.6 384 L415.6 384.2 L417.7 385.4 L419.7 385.4 L421.8 385.6 L423.8 385.5 L425.9 386.5 L427.9 386.7 L430 387.2 L432 388.2 L434.1 388.9 L436.1 387.5 L438.2 388.2 L440.3 390.2 L442.3 389.2 L444.4 391 L446.4 390.3 L448.5 391.7 L450.5 391.2 L452.6 392.6 L454.6 392 L456.7 391.8 L458.7 391 L460.8 392 L460.8 402 L458.7 402.1 L456.7 402.8 L454.6 402.9 L452.6 402 L450.5 401.5 L448.5 401.7 L446.4 401.8 L444.4 400.9 L442.3 400.3 L440.3 400.4 L438.2 400.1 L436.1 397.4 L434.1 397 L432 396.4 L430 396.6 L427.9 395.4 L425.9 394.8 L423.8 396.3 L421.8 396 L419.7 394.7 L417.7 395.3 L415.6 395.2 L413.6 395.9 L411.5 395ZM466 201 L468.1 199.6 L470.1 196.8 L472.2 195.4 L474.2 195.4 L476.3 194.3 L478.3 193.8 L480.4 195.2 L482.5 194.8 L484.5 194 L486.6 196 L488.6 196.8 L490.7 196.7 L492.7 197.2 L494.8 197.4 L496.9 196.9 L498.9 195.1 L501 196.5 L503 196.1 L505.1 196.1 L507.1 197.1 L509.2 196 L509.2 206 L507.1 206.1 L505.1 206.8 L503 205.5 L501 206.1 L498.9 205.6 L496.9 206.5 L494.8 205.5 L492.7 207.2 L490.7 207.7 L488.6 206.5 L486.6 206.2 L484.5 203.9 L482.5 204.9 L480.4 204.2 L478.3 204.8 L476.3 205.7 L474.2 204.6 L472.2 205.2 L470.1 208.5 L468.1 209.6 L466 211ZM510.7 385 L512.7 385.7 L514.8 384.2 L516.8 384.6 L518.9 384.2 L520.9 385.6 L522.9 385.8 L525 384.9 L527 384.6 L529 385.2 L531.1 387.1 L533.1 387.1 L535.1 386.3 L537.2 387 L539.2 388.2 L541.3 389.5 L543.3 388.8 L545.3 389.4 L547.4 391.5 L549.4 390.2 L551.5 391.2 L553.5 389.7 L555.5 391.2 L557.6 389.6 L559.6 390 L559.6 400 L557.6 400.1 L555.5 401.2 L553.5 400.4 L551.5 399.7 L549.4 401.9 L547.4 401.5 L545.3 399.4 L543.3 399.4 L541.3 399 L539.2 397.7 L537.2 398 L535.1 397.7 L533.1 397.5 L531.1 395.5 L529 395.4 L527 395.3 L525 395.8 L522.9 394.2 L520.9 394.3 L518.9 394.8 L516.8 394.2 L514.8 395 L512.7 394.2 L510.7 395ZM565.5 208 L567.5 208.3 L569.5 208.6 L571.6 206.9 L573.6 207.7 L575.6 207.7 L577.6 206.3 L579.7 204.7 L581.7 205.5 L583.7 204.6 L585.7 202.3 L587.8 203.2 L589.8 203 L591.8 202 L593.8 200.2 L595.8 199.7 L597.9 200.4 L599.9 198.3 L601.9 197.5 L603.9 196.8 L606 195 L608 195 L610 195 L610 205 L608 205.7 L606 206.3 L603.9 207.4 L601.9 207.7 L599.9 209.7 L597.9 210.1 L595.8 210.4 L593.8 211.7 L591.8 211.5 L589.8 212.9 L587.8 212.1 L585.7 213 L583.7 213.3 L581.7 215.4 L579.7 216.3 L577.6 216.5 L575.6 217 L573.6 217.3 L571.6 216.8 L569.5 216.7 L567.5 218.7 L565.5 218ZM611 388 L613.1 388.6 L615.1 387.6 L617.2 387.4 L619.2 387.3 L621.3 388 L623.4 388.3 L625.4 388.3 L627.5 387.6 L629.5 386.3 L631.6 386.3 L633.7 386.6 L635.7 386.1 L637.8 386.7 L639.9 387.1 L641.9 385.6 L644 385.1 L646 384.8 L648.1 386.3 L650.2 385.4 L652.2 384.4 L654.3 386.1 L656.3 385.4 L658.4 386 L658.4 396 L656.3 396 L654.3 395.7 L652.2 394.9 L650.2 394.5 L648.1 394.5 L646 396.6 L644 395.3 L641.9 396.6 L639.9 394.9 L637.8 395.5 L635.7 396.3 L633.7 397 L631.6 396.2 L629.5 396.8 L627.5 396.2 L625.4 396.7 L623.4 397.9 L621.3 397.5 L619.2 399 L617.2 398.8 L615.1 397.5 L613.1 397.9 L611 398ZM663 210 L665 207.7 L667 208.2 L669 211.7 L671 214.7 L673 215 L675.1 214.7 L677.1 214.8 L679.1 214.7 L681.1 214.8 L683.1 215.8 L685.1 214.5 L687.1 214.9 L689.1 214.7 L691.1 212.4 L693.1 213 L695.1 212.6 L697.1 212.4 L699.2 210 L701.2 210.3 L703.2 207.8 L705.2 208.2 L707.2 207.9 L709.2 207 L709.2 217 L707.2 217.8 L705.2 218.3 L703.2 218.1 L701.2 218.8 L699.2 221.7 L697.1 222.1 L695.1 221.7 L693.1 222.9 L691.1 223.7 L689.1 224.6 L687.1 223.7 L685.1 225.4 L683.1 226.1 L681.1 225.9 L679.1 225.5 L677.1 225.7 L675.1 225.7 L673 225.3 L671 225.2 L669 221 L667 218.3 L665 218.5 L663 220ZM709.8 388 L711.8 387.8 L713.8 388.7 L715.8 388.7 L717.8 388.6 L719.8 387.8 L721.8 387.9 L723.9 388.7 L725.9 387.2 L727.9 387.5 L729.9 386.6 L731.9 388.4 L733.9 386.3 L735.9 387.6 L737.9 385.9 L739.9 387.4 L741.9 387.6 L743.9 389.5 L746 390 L748 388.8 L750 390.1 L752 389.6 L754 388.2 L756 389 L758 388 L758 398 L756 399.1 L754 397.7 L752 398.4 L750 400.1 L748 400.4 L746 400.1 L743.9 399.5 L741.9 398.8 L739.9 397.7 L737.9 396.6 L735.9 397.4 L733.9 398.2 L731.9 397.8 L729.9 397.4 L727.9 396.8 L725.9 397.9 L723.9 398.3 L721.8 398.4 L719.8 398.1 L717.8 398 L715.8 398.8 L713.8 398.2 L711.8 397.7 L709.8 398ZM763 215 L765 212.8 L767 213.7 L769.1 213.1 L771.1 212.2 L773.1 211.8 L775.1 212.7 L777.1 212.2 L779.1 210.5 L781.2 210.4 L783.2 211.1 L785.2 209.3 L787.2 209.5 L789.2 210.2 L791.3 208.3 L793.3 208.9 L795.3 209.3 L797.3 209.6 L799.3 209.4 L801.3 208.7 L803.4 208.9 L805.4 208.8 L807.4 209 L807.4 219 L805.4 218.4 L803.4 217.9 L801.3 218.8 L799.3 218.1 L797.3 218.2 L795.3 219.1 L793.3 219.6 L791.3 219.4 L789.2 218.8 L787.2 219.8 L785.2 219.7 L783.2 220.1 L781.2 221.6 L779.1 221.2 L777.1 222.1 L775.1 221 L773.1 221.2 L771.1 223.2 L769.1 222.9 L767 223.9 L765 222.7 L763 225ZM809.4 390 L811.4 390.4 L813.5 391 L815.5 389.4 L817.5 390.2 L819.6 390.8 L821.6 392.4 L823.7 392.8 L825.7 393.4 L827.7 394.6 L829.8 395.3 L831.8 394.5 L833.8 394.1 L835.9 391.3 L837.9 391.9 L840 391.3 L842 390.4 L844 388.3 L846.1 388.6 L848.1 389 L850.1 388 L852.2 387.9 L854.2 387.9 L856.3 388.9 L858.3 388.5 L858.3 398.5 L856.3 399.5 L854.2 397.9 L852.2 397.4 L850.1 398.7 L848.1 399.4 L846.1 398.3 L844 398.4 L842 400.8 L840 401.1 L837.9 401.6 L835.9 401.9 L833.8 402.5 L831.8 403.5 L829.8 404.2 L827.7 404 L825.7 401.8 L823.7 401.5 L821.6 402.3 L819.6 400.6 L817.5 400.4 L815.5 399.8 L813.5 399.3 L811.4 400.9 L809.4 400ZM862 213 L864.1 210.7 L866.1 209.5 L868.2 210 L870.2 211.2 L872.3 210.2 L874.3 210.1 L876.4 211.4 L878.4 212.3 L880.5 211.5 L882.5 210.8 L884.6 211.9 L886.7 211.9 L888.7 212.7 L890.8 213.6 L892.8 214.4 L894.9 213.2 L896.9 215.2 L899 216 L901 215.6 L903.1 216.5 L905.1 215.5 L907.2 216 L907.2 226 L905.1 226 L903.1 227 L901 225.4 L899 225.8 L896.9 224.7 L894.9 223.2 L892.8 223.7 L890.8 222.2 L888.7 223 L886.7 223.2 L884.6 222.9 L882.5 221.2 L880.5 222.1 L878.4 222 L876.4 220.4 L874.3 221.8 L872.3 221.6 L870.2 220.6 L868.2 220.3 L866.1 220.2 L864.1 222.5 L862 223ZM909.2 391 L911.3 391.4 L913.4 391.8 L915.4 390.8 L917.5 391.1 L919.6 391.8 L921.7 392.2 L923.8 392.5 L925.9 393.7 L927.9 393.4 L930 394.4 L932.1 394.6 L934.2 396.2 L936.3 396.8 L938.4 397.9 L940.4 396.6 L942.5 398.2 L944.6 398.2 L946.7 399.9 L948.8 400.1 L950.9 399.7 L952.9 401.6 L955 402.3 L957.1 402 L957.1 412 L955 410.3 L952.9 410.6 L950.9 410.5 L948.8 410.8 L946.7 408.3 L944.6 407.8 L942.5 407.8 L940.4 406.7 L938.4 406.1 L936.3 406.1 L934.2 405.9 L932.1 405 L930 404.1 L927.9 403.1 L925.9 402.6 L923.8 402.9 L921.7 401.3 L919.6 402.8 L917.5 401.2 L915.4 402.2 L913.4 402.3 L911.3 401.9 L909.2 401ZM962 233 L964 232 L966.1 228.9 L968.1 229.1 L970.2 226.6 L972.2 227.5 L974.3 228.7 L976.3 231.7 L978.4 234.7 L980.4 233.7 L982.5 232.4 L984.5 232.8 L986.5 231.6 L988.6 231.5 L990.6 230.8 L992.7 231.6 L994.7 231 L996.8 231.6 L998.8 232 L1000.9 232 L1002.9 231.2 L1005 232.2 L1007 232.5 L1007 242.5 L1005 241.2 L1002.9 242.4 L1000.9 241.3 L998.8 242.8 L996.8 241.1 L994.7 241 L992.7 242.3 L990.6 242 L988.6 242.6 L986.5 242.2 L984.5 243.1 L982.5 242.7 L980.4 243.3 L978.4 244.6 L976.3 242.8 L974.3 240.5 L972.2 236.4 L970.2 237 L968.1 238.6 L966.1 239.4 L964 241.7 L962 243ZM1007.7 399 L1009.7 399.9 L1011.8 397.7 L1013.8 398.8 L1015.9 397.8 L1017.9 399.1 L1019.9 399.1 L1022 398.1 L1024 398.3 L1026 397.4 L1028.1 397.8 L1030.1 397.3 L1032.2 396.1 L1034.2 395.9 L1036.2 396.6 L1038.3 396.1 L1040.3 397.8 L1042.3 397.4 L1044.4 395.8 L1046.4 396.1 L1048.4 395.9 L1050.5 396.6 L1052.5 397 L1054.6 397.2 L1056.6 397 L1056.6 407 L1054.6 406.9 L1052.5 408 L1050.5 406.7 L1048.4 406.5 L1046.4 406.9 L1044.4 407.9 L1042.3 406.7 L1040.3 406.3 L1038.3 407.2 L1036.2 406.1 L1034.2 406.6 L1032.2 406.6 L1030.1 406.2 L1028.1 408 L1026 407.4 L1024 408.5 L1022 407.9 L1019.9 408.2 L1017.9 408.2 L1015.9 409.1 L1013.8 408.2 L1011.8 408.1 L1009.7 409.9 L1007.7 409ZM1061 230 L1063 228.5 L1065 226.4 L1067.1 228 L1069.1 227 L1071.1 227.8 L1073.1 230 L1075.2 230.7 L1077.2 229.8 L1079.2 229.6 L1081.2 228.5 L1083.2 228.5 L1085.3 229.2 L1087.3 227.7 L1089.3 228.1 L1091.3 229.2 L1093.4 228.8 L1095.4 230.2 L1097.4 229.2 L1099.4 230.8 L1101.5 230.1 L1103.5 230.7 L1105.5 230.5 L1105.5 240.5 L1103.5 240.8 L1101.5 239.1 L1099.4 240.6 L1097.4 239.3 L1095.4 240.3 L1093.4 239.8 L1091.3 239.9 L1089.3 239.6 L1087.3 239.1 L1085.3 237.3 L1083.2 238.4 L1081.2 238.7 L1079.2 239.1 L1077.2 238.2 L1075.2 239.1 L1073.1 240 L1071.1 238.4 L1069.1 238.2 L1067.1 237.2 L1065 237.6 L1063 237.1 L1061 240ZM1108 401 L1110 400.4 L1112 402.1 L1114 400.1 L1116.1 401.4 L1118.1 400.8 L1120.1 401.5 L1122.1 398.8 L1124.1 397.8 L1126.2 399.5 L1128.2 400.5 L1130.2 402.9 L1132.2 403.9 L1134.2 403.5 L1136.2 403.1 L1138.2 402.5 L1140.3 403.2 L1142.3 402.9 L1144.3 402.7 L1146.3 401.6 L1148.3 401.8 L1150.4 402.2 L1152.4 402.4 L1154.4 402.4 L1156.4 403 L1156.4 413 L1154.4 412.9 L1152.4 413.3 L1150.4 413.2 L1148.3 412.6 L1146.3 411.8 L1144.3 411.2 L1142.3 411.4 L1140.3 411.7 L1138.2 413.2 L1136.2 413.8 L1134.2 414.5 L1132.2 414.9 L1130.2 413.3 L1128.2 411.3 L1126.2 409.8 L1124.1 408.6 L1122.1 410.2 L1120.1 409.7 L1118.1 410.7 L1116.1 411.2 L1114 411.3 L1112 412.1 L1110 410.5 L1108 411ZM1161 247 L1163.1 244.5 L1165.1 241.3 L1167.2 241.1 L1169.2 238.8 L1171.3 239.3 L1173.4 236.9 L1175.4 236.9 L1177.5 236.2 L1179.5 237 L1181.6 234.7 L1183.7 234.5 L1185.7 235.8 L1187.8 236.4 L1189.8 238.7 L1191.9 239.4 L1193.9 242.9 L1196 245.9 L1198.1 248.4 L1200.1 253.2 L1202.2 255.3 L1204.2 259.1 L1206.3 261 L1206.3 271 L1204.2 269.2 L1202.2 266.2 L1200.1 263.2 L1198.1 259.8 L1196 254.9 L1193.9 252.5 L1191.9 249 L1189.8 248.3 L1187.8 247.2 L1185.7 246.9 L1183.7 245.3 L1181.6 245.7 L1179.5 245.3 L1177.5 246.6 L1175.4 247.3 L1173.4 247.5 L1171.3 248.7 L1169.2 249.9 L1167.2 250.7 L1165.1 251.5 L1163.1 254.8 L1161 257ZM1206.3 422 L1208.4 422.7 L1210.5 420.8 L1212.6 419.9 L1214.7 420.1 L1216.8 418.7 L1218.9 418.7 L1221 416.7 L1223.2 416.1 L1225.3 413.6 L1227.4 413.5 L1229.5 412.5 L1231.6 411.5 L1233.7 410.3 L1235.8 408.9 L1237.9 408.7 L1240 407 L1240 417 L1237.9 418.7 L1235.8 418.7 L1233.7 420.8 L1231.6 421.9 L1229.5 423.1 L1227.4 424.4 L1225.3 423.8 L1223.2 424.9 L1221 425.8 L1218.9 428.6 L1216.8 428.7 L1214.7 429.7 L1212.6 430.5 L1210.5 431.7 L1208.4 431.6 L1206.3 432Z"/>
<path fill="#f00" d="M167 444.4 L169 440.2 L171.1 438.2 L173.1 435.4 L175.1 431.1 L177.2 430.1 L179.2 428.4 L181.2 424.9 L183.3 422.2 L185.3 421.7 L187.3 419.4 L189.3 417.2 L191.4 415.5 L193.4 415.3 L195.4 413.1 L197.5 412.5 L199.5 412.1 L201.5 411.4 L203.6 412.2 L205.6 409.9 L207.6 410.6 L209.7 410 L211.7 409.4 L211.7 422.6 L209.7 422.9 L207.6 423.3 L205.6 424.1 L203.6 423.5 L201.5 424.5 L199.5 425.9 L197.5 426.6 L195.4 425.9 L193.4 428.7 L191.4 429.9 L189.3 431.2 L187.3 432.7 L185.3 434.7 L183.3 437.2 L181.2 437.7 L179.2 441.2 L177.2 443.1 L175.1 445.5 L173.1 448.4 L171.1 450.8 L169 454.8 L167 457.6ZM213 640.2 L215 640 L217.1 639.8 L219.1 640.8 L221.2 639.4 L223.2 640.1 L225.2 640.3 L227.3 641.3 L229.3 640 L231.3 641.6 L233.4 639.4 L235.4 641.7 L237.4 640.2 L239.5 641.9 L241.5 640.5 L243.6 639.8 L245.6 639.5 L247.6 639.5 L249.7 639.8 L251.7 639 L253.7 639.7 L255.8 640.6 L257.8 639.4 L259.9 639.6 L261.9 640.2 L261.9 651.8 L259.9 652.4 L257.8 650.9 L255.8 651.4 L253.7 651.1 L251.7 650.7 L249.7 650.8 L247.6 650.7 L245.6 651.9 L243.6 651.9 L241.5 652.7 L239.5 651.7 L237.4 652.9 L235.4 652 L233.4 653.1 L231.3 651.2 L229.3 653 L227.3 651.8 L225.2 651.6 L223.2 652.5 L221.2 652 L219.1 651.9 L217.1 651.9 L215 652.8 L213 651.8ZM267 427.4 L269.1 423.7 L271.2 420.7 L273.2 417.8 L275.3 418.3 L277.4 417.2 L279.5 417.1 L281.6 414.4 L283.6 414.7 L285.7 416.2 L287.8 416.5 L289.9 416.5 L292 417.3 L294.1 417.4 L296.1 417.9 L298.2 416.4 L300.3 416.5 L302.4 417.5 L304.5 418.2 L306.5 416.7 L308.6 418.1 L310.7 416.9 L310.7 430.1 L308.6 430.1 L306.5 429.3 L304.5 431.6 L302.4 430.4 L300.3 430.5 L298.2 431.6 L296.1 429 L294.1 430.5 L292 429 L289.9 429.3 L287.8 430.3 L285.7 430 L283.6 429 L281.6 428.3 L279.5 429.1 L277.4 430.8 L275.3 430.4 L273.2 431.2 L271.2 432.8 L269.1 437.8 L267 440.6ZM311.7 640.7 L313.8 640.1 L315.9 641.7 L317.9 641.8 L320 641.2 L322.1 641.7 L324.2 640.5 L326.3 640.9 L328.3 640.2 L330.4 641.9 L332.5 642.2 L334.6 640.1 L336.6 640.3 L338.7 641.9 L340.8 640.3 L342.9 640.1 L345 639.9 L347 639.4 L349.1 640 L351.2 640.9 L353.3 639.4 L355.4 638.5 L357.4 639.1 L359.5 640.1 L361.6 639.7 L361.6 651.3 L359.5 650.2 L357.4 651.1 L355.4 651.6 L353.3 650.3 L351.2 650.6 L349.1 651.3 L347 651.5 L345 653.2 L342.9 653.8 L340.8 651.7 L338.7 652.3 L336.6 653.6 L334.6 653.3 L332.5 652.8 L330.4 653 L328.3 653.4 L326.3 652.1 L324.2 652.3 L322.1 650.9 L320 652.8 L317.9 651.1 L315.9 652.2 L313.8 652.4 L311.7 652.3ZM367 426.4 L369 422.6 L371 420 L373.1 417 L375.1 415 L377.1 416.3 L379.1 414.4 L381.2 413.4 L383.2 414.9 L385.2 413.8 L387.2 415.4 L389.3 415.7 L391.3 416.6 L393.3 415.7 L395.3 417.7 L397.4 418 L399.4 417.4 L401.4 415.8 L403.4 415.5 L405.5 416.6 L407.5 416.8 L409.5 415.9 L409.5 429.1 L407.5 429.7 L405.5 430.2 L403.4 428.8 L401.4 428.6 L399.4 431.1 L397.4 429.6 L395.3 430.9 L393.3 428.4 L391.3 429.3 L389.3 429.5 L387.2 428.7 L385.2 428.2 L383.2 426.2 L381.2 427.7 L379.1 427.6 L377.1 428.3 L375.1 429.3 L373.1 431.4 L371 433.6 L369 437.2 L367 439.6ZM411.5 638.2 L413.6 638.7 L415.6 638.3 L417.7 637.8 L419.7 636.7 L421.8 637.8 L423.8 636.8 L425.9 637.7 L427.9 638.1 L430 637.5 L432 637.7 L434.1 638.7 L436.1 640.2 L438.2 638.8 L440.3 640.1 L442.3 639.4 L444.4 638.1 L446.4 640 L448.5 639.6 L450.5 637.2 L452.6 637.9 L454.6 639.3 L456.7 638.8 L458.7 640.1 L460.8 639.2 L460.8 650.8 L458.7 651.5 L456.7 650.1 L454.6 649 L452.6 650.3 L450.5 650.1 L448.5 649.4 L446.4 650 L444.4 650.2 L442.3 651.3 L440.3 650.9 L438.2 650.5 L436.1 651.4 L434.1 651.5 L432 650.3 L430 650.9 L427.9 650.4 L425.9 648.7 L423.8 649.6 L421.8 649 L419.7 649.7 L417.7 650.5 L415.6 648.8 L413.6 649.1 L411.5 649.8ZM465 431.4 L467 428.6 L469 425.1 L471 424.3 L473 422.2 L475 421.5 L477.1 420.2 L479.1 420.4 L481.1 420 L483.1 421.8 L485.1 420.1 L487.1 420 L489.1 419.2 L491.1 419.4 L493.1 419.9 L495.1 420.8 L497.1 420 L499.2 419.7 L501.2 417.8 L503.2 418.9 L505.2 419.1 L507.2 417.5 L509.2 417.4 L509.2 430.6 L507.2 429.8 L505.2 431.9 L503.2 431.2 L501.2 431.1 L499.2 433.4 L497.1 432.8 L495.1 433.8 L493.1 432.1 L491.1 434.1 L489.1 434.1 L487.1 433 L485.1 434.8 L483.1 432.9 L481.1 434.5 L479.1 434.8 L477.1 434.8 L475 434.8 L473 434.9 L471 435.8 L469 439.2 L467 441.4 L465 444.6ZM511.2 637.2 L513.2 637.2 L515.2 637.5 L517.2 638.1 L519.3 638.4 L521.3 636.6 L523.3 637.9 L525.3 637 L527.3 636.8 L529.4 637.3 L531.4 638.3 L533.4 637.6 L535.4 638.2 L537.4 636 L539.4 637.4 L541.5 638.3 L543.5 638.5 L545.5 638.1 L547.5 637.7 L549.5 639.6 L551.5 638.4 L553.6 639.2 L555.6 638.7 L557.6 639.4 L559.6 638.2 L559.6 649.8 L557.6 651.1 L555.6 651 L553.6 651.2 L551.5 650.7 L549.5 650 L547.5 649.5 L545.5 650.2 L543.5 648.8 L541.5 648.8 L539.4 648.1 L537.4 648.2 L535.4 648.2 L533.4 648.1 L531.4 647.7 L529.4 649.7 L527.3 647.9 L525.3 649.5 L523.3 648.8 L521.3 648.2 L519.3 650.1 L517.2 648.1 L515.2 648 L513.2 649.9 L511.2 648.8ZM565 433.4 L567 430.5 L569.1 429.3 L571.1 427.8 L573.2 427.8 L575.2 427.2 L577.3 427.2 L579.3 425.7 L581.4 425 L583.4 425.4 L585.5 422.4 L587.5 423.8 L589.5 421.8 L591.6 420.3 L593.6 419.9 L595.7 418.9 L597.7 419.1 L599.8 417.6 L601.8 418.7 L603.9 416.6 L605.9 416.9 L608 413.6 L610 415.4 L610 428.6 L608 428.1 L605.9 430.4 L603.9 430.6 L601.8 432 L599.8 431.8 L597.7 433.2 L595.7 434.2 L593.6 432.7 L591.6 435.4 L589.5 435 L587.5 436.9 L585.5 437.2 L583.4 437 L581.4 438.9 L579.3 439.7 L577.3 440.3 L575.2 440.8 L573.2 439.2 L571.1 441.5 L569.1 442.3 L567 445.8 L565 446.6ZM610.5 636.2 L612.6 636.2 L614.7 637.1 L616.7 635.5 L618.8 635.6 L620.9 637 L623 636.8 L625.1 635.2 L627.2 636.7 L629.2 636.9 L631.3 635.6 L633.4 636.6 L635.5 636.8 L637.6 637.1 L639.7 635.4 L641.7 634.7 L643.8 635.1 L645.9 635.7 L648 636.7 L650.1 634.6 L652.2 634.7 L654.2 636.2 L656.3 636 L658.4 635.7 L658.4 647.3 L656.3 648.2 L654.2 647.6 L652.2 646.8 L650.1 646.8 L648 647.5 L645.9 647.7 L643.8 647.6 L641.7 648.5 L639.7 646.9 L637.6 648.7 L635.5 647.9 L633.4 649 L631.3 647.8 L629.2 648.6 L627.2 648.4 L625.1 648.6 L623 647.1 L620.9 646.9 L618.8 646.7 L616.7 649.1 L614.7 648 L612.6 646.6 L610.5 647.8ZM664.5 435.4 L666.6 431.9 L668.7 430.6 L670.7 428.6 L672.8 427.9 L674.9 427.4 L677 429 L679.1 427.8 L681.1 428.7 L683.2 428.7 L685.3 429.1 L687.4 428.7 L689.5 427.6 L691.6 428.3 L693.6 427.1 L695.7 426.9 L697.8 425.6 L699.9 426.1 L702 423.8 L704 425.3 L706.1 424.6 L708.2 424.4 L708.2 437.6 L706.1 437.9 L704 438 L702 437.4 L699.9 439.1 L697.8 438.8 L695.7 439.6 L693.6 440.1 L691.6 440.6 L689.5 442.4 L687.4 440.5 L685.3 440.9 L683.2 442.5 L681.1 441.3 L679.1 442.6 L677 441.8 L674.9 440.7 L672.8 443.3 L670.7 442.3 L668.7 444.5 L666.6 447.6 L664.5 448.6ZM709.8 636.2 L711.8 636 L713.8 636.5 L715.8 637 L717.8 636.9 L719.8 635.6 L721.8 635.6 L723.9 637.3 L725.9 634.9 L727.9 637.1 L729.9 635 L731.9 635.1 L733.9 635.6 L735.9 635 L737.9 635.7 L739.9 636.2 L741.9 635.6 L743.9 635.5 L746 634.3 L748 634.9 L750 635.2 L752 635.1 L754 634.8 L756 634.8 L758 635.2 L758 646.8 L756 647 L754 646.5 L752 647.5 L750 646.8 L748 648.1 L746 645.8 L743.9 646.8 L741.9 646.8 L739.9 646.6 L737.9 647 L735.9 646.6 L733.9 648.3 L731.9 647.1 L729.9 647.5 L727.9 646.9 L725.9 648 L723.9 647.1 L721.8 646.9 L719.8 647.2 L717.8 647.9 L715.8 646.7 L713.8 647.1 L711.8 647.6 L709.8 647.8ZM763 437.4 L765 435.6 L767 433.9 L769.1 432.1 L771.1 431 L773.1 429.6 L775.1 430.1 L777.1 429.6 L779.1 429.1 L781.2 427.7 L783.2 428.1 L785.2 427.7 L787.2 427 L789.2 428 L791.3 427 L793.3 426.3 L795.3 424.7 L797.3 425.9 L799.3 425.8 L801.3 424.2 L803.4 422.7 L805.4 423.2 L807.4 423.4 L807.4 436.6 L805.4 435.3 L803.4 435 L801.3 435.9 L799.3 437 L797.3 437.7 L795.3 438.6 L793.3 438.8 L791.3 439.2 L789.2 439.5 L787.2 441.4 L785.2 441 L783.2 439.3 L781.2 441.4 L779.1 442 L777.1 441.7 L775.1 443.6 L773.1 442.2 L771.1 443.5 L769.1 443.7 L767 447.3 L765 449.8 L763 450.6ZM809.4 634.2 L811.4 633.3 L813.4 634.9 L815.4 634.4 L817.5 632.9 L819.5 633.3 L821.5 634.4 L823.5 634.4 L825.5 633.7 L827.5 634.3 L829.6 635.4 L831.6 635.8 L833.6 634.6 L835.6 635.3 L837.6 635.9 L839.6 636.1 L841.7 634.8 L843.7 634.7 L845.7 634.8 L847.7 634.2 L849.7 633 L851.8 633 L853.8 634.4 L855.8 633.8 L857.8 634.2 L857.8 645.8 L855.8 646.7 L853.8 645 L851.8 645.9 L849.7 645 L847.7 645.6 L845.7 646.1 L843.7 646.6 L841.7 646.4 L839.6 646 L837.6 647.6 L835.6 648 L833.6 648 L831.6 647.1 L829.6 646.3 L827.5 648 L825.5 646.8 L823.5 646.6 L821.5 645.7 L819.5 644.6 L817.5 646.5 L815.4 646.7 L813.4 645.1 L811.4 646 L809.4 645.8ZM862.5 433.4 L864.5 430.8 L866.6 429.6 L868.6 427 L870.6 427.4 L872.7 427.4 L874.7 425.2 L876.7 425.3 L878.8 425.3 L880.8 423.7 L882.8 425.9 L884.9 424.5 L886.9 425.3 L888.9 427.3 L890.9 427.2 L893 427.4 L895 427.2 L897 427.4 L899.1 426.7 L901.1 426.8 L903.1 425.2 L905.2 426.5 L907.2 425.4 L907.2 438.6 L905.2 437.4 L903.1 439.1 L901.1 439.2 L899.1 440.4 L897 440.4 L895 440.8 L893 439.8 L890.9 440.9 L888.9 440.2 L886.9 438 L884.9 438.7 L882.8 437.6 L880.8 438.1 L878.8 439.3 L876.7 439.3 L874.7 439.2 L872.7 440.7 L870.6 440.1 L868.6 440.1 L866.6 442.6 L864.5 445.8 L862.5 446.6ZM909.2 635.2 L911.3 634.3 L913.3 635.3 L915.4 635 L917.4 634 L919.5 633.8 L921.6 634.6 L923.6 636 L925.7 636.3 L927.7 636.4 L929.8 637.2 L931.9 635.5 L933.9 636.5 L936 636.3 L938.1 638.2 L940.1 636.2 L942.2 637.3 L944.2 638.3 L946.3 636.8 L948.4 636.7 L950.4 638.7 L952.5 637.5 L954.5 638.7 L956.6 637.7 L956.6 649.3 L954.5 648.9 L952.5 648.3 L950.4 649 L948.4 650 L946.3 649.5 L944.2 650.1 L942.2 649.7 L940.1 648 L938.1 649.8 L936 649.3 L933.9 647.9 L931.9 647 L929.8 646.6 L927.7 647.9 L925.7 646.1 L923.6 647.9 L921.6 647.7 L919.5 645.5 L917.4 646.7 L915.4 645.4 L913.3 646.8 L911.3 645.7 L909.2 646.8ZM962 440.4 L964 439.1 L966.1 436 L968.1 437 L970.2 434.8 L972.2 434.7 L974.3 433.8 L976.3 435.6 L978.4 434.6 L980.4 433.4 L982.5 435.4 L984.5 432.8 L986.5 435.1 L988.6 433.5 L990.6 434.2 L992.7 434.3 L994.7 433.9 L996.8 435 L998.8 434.2 L1000.9 434.7 L1002.9 434.4 L1005 433.1 L1007 434.4 L1007 447.6 L1005 448.1 L1002.9 447.2 L1000.9 446.8 L998.8 447.2 L996.8 448.2 L994.7 447.4 L992.7 447 L990.6 448.6 L988.6 447.8 L986.5 446.2 L984.5 447.6 L982.5 447 L980.4 448 L978.4 448.4 L976.3 448.2 L974.3 447.8 L972.2 448.4 L970.2 449.2 L968.1 447.9 L966.1 449.4 L964 451.2 L962 453.6ZM1007.7 636.2 L1009.7 636.6 L1011.7 635 L1013.7 636.9 L1015.8 637.5 L1017.8 635.3 L1019.8 637.4 L1021.8 636.3 L1023.8 636.7 L1025.8 635.8 L1027.8 635.7 L1029.8 637.5 L1031.8 637 L1033.9 635.9 L1035.9 637.6 L1037.9 636.2 L1039.9 637.5 L1041.9 637.3 L1043.9 638.2 L1045.9 637.2 L1048 636.8 L1050 636 L1052 637.7 L1054 637.6 L1056 636.7 L1056 648.3 L1054 648.4 L1052 649.6 L1050 648.5 L1048 647.3 L1045.9 647.4 L1043.9 648.8 L1041.9 648.6 L1039.9 647.2 L1037.9 649 L1035.9 648.2 L1033.9 648.5 L1031.8 647.5 L1029.8 647.5 L1027.8 647.7 L1025.8 649 L1023.8 646.9 L1021.8 649 L1019.8 647 L1017.8 649.1 L1015.8 646.8 L1013.7 648.4 L1011.7 648.7 L1009.7 649 L1007.7 647.8ZM1062 438.4 L1064 436.3 L1066.1 434.4 L1068.1 433.9 L1070.2 432.2 L1072.2 432.7 L1074.3 432.8 L1076.3 433.2 L1078.4 431.5 L1080.4 432.9 L1082.5 431 L1084.5 431.8 L1086.6 432.4 L1088.6 432.2 L1090.7 433 L1092.7 432.5 L1094.8 432.5 L1096.8 432.3 L1098.9 432.8 L1100.9 433.9 L1103 432.5 L1105 433.9 L1105 447.1 L1103 447.1 L1100.9 447.6 L1098.9 447.4 L1096.8 444.7 L1094.8 444.6 L1092.7 446.3 L1090.7 445.1 L1088.6 444.4 L1086.6 444.7 L1084.5 446.3 L1082.5 444.8 L1080.4 446.5 L1078.4 445.2 L1076.3 444.4 L1074.3 446.2 L1072.2 445.2 L1070.2 447.1 L1068.1 445.5 L1066.1 446.9 L1064 450.1 L1062 451.6ZM1107.5 636.7 L1109.5 637.8 L1111.6 636 L1113.6 637.8 L1115.7 638.1 L1117.7 636.2 L1119.7 637.3 L1121.8 638.2 L1123.8 637.3 L1125.8 637.9 L1127.9 637.5 L1129.9 636.1 L1132 636.7 L1134 638.4 L1136 636.7 L1138.1 637.7 L1140.1 638.1 L1142.1 636.1 L1144.2 638 L1146.2 637.7 L1148.2 635.9 L1150.3 636.5 L1152.3 637.1 L1154.4 635.9 L1156.4 637.2 L1156.4 648.8 L1154.4 648.4 L1152.3 648.8 L1150.3 648.7 L1148.2 647.8 L1146.2 648.9 L1144.2 648.3 L1142.1 649.9 L1140.1 649.1 L1138.1 648.6 L1136 647.9 L1134 649 L1132 647.7 L1129.9 647.9 L1127.9 648.6 L1125.8 648.4 L1123.8 649.6 L1121.8 649.3 L1119.7 648.1 L1117.7 647.9 L1115.7 648.6 L1113.6 648.6 L1111.6 647.3 L1109.5 649.5 L1107.5 648.3ZM1162 442.4 L1164 439 L1166 437.8 L1168 438.2 L1170.1 437.8 L1172.1 436.7 L1174.1 435.6 L1176.1 437.4 L1178.1 435.6 L1180.1 435.2 L1182.1 437.4 L1184.2 435.3 L1186.2 435.5 L1188.2 437.8 L1190.2 437 L1192.2 437.7 L1194.2 437.5 L1196.2 437.3 L1198.2 438.2 L1200.3 439.7 L1202.3 439.3 L1204.3 439.9 L1206.3 441.4 L1206.3 454.6 L1204.3 454.3 L1202.3 452.7 L1200.3 451.4 L1198.2 451.2 L1196.2 451.1 L1194.2 450.3 L1192.2 450.9 L1190.2 450.7 L1188.2 448.9 L1186.2 450.3 L1184.2 450.8 L1182.1 450.8 L1180.1 450.3 L1178.1 449.4 L1176.1 450.4 L1174.1 448.4 L1172.1 450.1 L1170.1 450.6 L1168 451.2 L1166 450.2 L1164 453.2 L1162 455.6ZM1207.4 639.7 L1209.5 640.4 L1211.6 638.6 L1213.7 640.9 L1215.8 639.2 L1217.9 640.3 L1220 640.5 L1222.1 639.7 L1224.2 640.3 L1226.3 640.6 L1228.4 640.5 L1230.5 640.8 L1232.6 638.9 L1234.7 639.9 L1236.8 639.5 L1238.9 638.4 L1241 638.2 L1241 649.8 L1238.9 650.5 L1236.8 651 L1234.7 650.9 L1232.6 651.1 L1230.5 651.9 L1228.4 653.5 L1226.3 651.4 L1224.2 651.6 L1222.1 651.6 L1220 652.3 L1217.9 650.7 L1215.8 651.5 L1213.7 651.4 L1211.6 652.7 L1209.5 650.8 L1207.4 651.3Z"/>
<path fill="#00f" d="M168 904.6 L170 911.7 L172 915.3 L174.1 919.4 L176.1 920.1 L178.1 924.2 L180.1 922.1 L182.2 927.3 L184.2 926.1 L186.2 927.2 L188.2 929.1 L190.2 933.4 L192.3 931.8 L194.3 931.8 L196.3 929.4 L198.3 930.2 L200.4 929.6 L202.4 927.7 L204.4 927.6 L206.4 930.9 L208.5 929.3 L210.5 928 L212.5 928.6 L212.5 947.4 L210.5 947.7 L208.5 949 L206.4 949.8 L204.4 950.1 L202.4 946.6 L200.4 947.7 L198.3 950.8 L196.3 948.8 L194.3 951.8 L192.3 952.4 L190.2 952.1 L188.2 949 L186.2 947.9 L184.2 944.3 L182.2 942.3 L180.1 941.6 L178.1 939.3 L176.1 941.3 L174.1 935.9 L172 933.4 L170 930.5 L168 923.4ZM213.5 686.6 L215.5 688.5 L217.6 688 L219.6 684.4 L221.7 688.7 L223.7 686.2 L225.7 686.4 L227.8 685.2 L229.8 684 L231.8 683.7 L233.9 681.4 L235.9 680.9 L237.9 684.4 L240 683 L242 681.5 L244.1 683.3 L246.1 682.5 L248.1 682.4 L250.2 684 L252.2 684.1 L254.2 683.4 L256.3 682.3 L258.3 681.7 L260.4 684.9 L262.4 683.6 L262.4 702.4 L260.4 700 L258.3 701.4 L256.3 704 L254.2 704.3 L252.2 703.7 L250.2 701.2 L248.1 702.2 L246.1 701.8 L244.1 702.4 L242 701.1 L240 702.1 L237.9 701.6 L235.9 702.6 L233.9 702.1 L231.8 704 L229.8 704.8 L227.8 704.2 L225.7 703.2 L223.7 706 L221.7 707.4 L219.6 705.1 L217.6 706.2 L215.5 703.4 L213.5 705.4ZM264.4 928.6 L266.5 927.9 L268.6 929.4 L270.6 926.5 L272.7 929.5 L274.8 928.8 L276.9 931 L278.9 930.5 L281 928.7 L283.1 929.9 L285.2 929.6 L287.3 929.8 L289.3 925.8 L291.4 928.7 L293.5 926.2 L295.6 927.3 L297.7 925.4 L299.7 925 L301.8 925.9 L303.9 928.2 L306 924.5 L308 928.6 L310.1 925.3 L312.2 927.1 L312.2 945.9 L310.1 943.8 L308 946.2 L306 948 L303.9 944.1 L301.8 945.8 L299.7 943.3 L297.7 941.9 L295.6 941.6 L293.5 946.6 L291.4 946.4 L289.3 947.7 L287.3 946.8 L285.2 947.1 L283.1 948.1 L281 947.2 L278.9 949.4 L276.9 947 L274.8 946.9 L272.7 946.1 L270.6 949.4 L268.6 945.4 L266.5 946.7 L264.4 947.4ZM313.5 712.6 L315.5 713.7 L317.6 711.2 L319.6 712 L321.6 713.6 L323.6 712.4 L325.7 710.3 L327.7 712 L329.7 711.9 L331.8 712.4 L333.8 708.8 L335.8 710.5 L337.9 711.8 L339.9 711.2 L341.9 709.1 L343.9 711.7 L346 712.7 L348 709.9 L350 710.3 L352.1 709.1 L354.1 710 L356.1 711.8 L358.1 710.5 L360.2 709.8 L362.2 710.6 L362.2 729.4 L360.2 730.3 L358.1 728.7 L356.1 728.5 L354.1 729.5 L352.1 730.5 L350 728.3 L348 728.8 L346 729.8 L343.9 729.2 L341.9 726.7 L339.9 726.6 L337.9 728.4 L335.8 727.3 L333.8 729.1 L331.8 727.2 L329.7 731.9 L327.7 730.1 L325.7 731.3 L323.6 730.7 L321.6 732.2 L319.6 732.4 L317.6 730 L315.5 732.8 L313.5 731.4ZM364.7 923.6 L366.7 922.6 L368.8 923.5 L370.8 923.7 L372.8 924.6 L374.9 921.4 L376.9 924.9 L378.9 926.2 L381 925.6 L383 926.5 L385 926.6 L387.1 923.4 L389.1 923.3 L391.2 925.1 L393.2 922 L395.2 924.4 L397.3 921.9 L399.3 926.2 L401.3 926.1 L403.4 925.6 L405.4 924 L407.4 923.7 L409.5 923.5 L411.5 924.6 L411.5 943.4 L409.5 945.4 L407.4 942.9 L405.4 945.9 L403.4 942.1 L401.3 942.2 L399.3 944.2 L397.3 941.8 L395.2 942.3 L393.2 942.9 L391.2 941 L389.1 945.2 L387.1 941.5 L385 942.9 L383 943.8 L381 944.1 L378.9 943.3 L376.9 942.1 L374.9 940.7 L372.8 943.1 L370.8 943.9 L368.8 943.2 L366.7 944.6 L364.7 942.4ZM412.5 722.6 L414.5 724.4 L416.6 721.3 L418.6 722.3 L420.6 723.3 L422.7 722.9 L424.7 720.4 L426.7 723.7 L428.8 722.2 L430.8 719.2 L432.8 721.4 L434.9 720.7 L436.9 718.7 L438.9 718.9 L441 719.7 L443 720.3 L445 722.9 L447.1 723.9 L449.1 719.4 L451.1 724.3 L453.2 723.8 L455.2 721 L457.2 722.4 L459.3 721.8 L461.3 721.6 L461.3 740.4 L459.3 739 L457.2 740.4 L455.2 739.2 L453.2 739.5 L451.1 741.6 L449.1 739.2 L447.1 741.4 L445 742.2 L443 739.1 L441 738 L438.9 738.6 L436.9 737.3 L434.9 739.8 L432.8 740.8 L430.8 739.6 L428.8 738.7 L426.7 740.8 L424.7 741.5 L422.7 741 L420.6 741.4 L418.6 740.6 L416.6 739.8 L414.5 742.6 L412.5 741.4ZM463.4 926.6 L465.5 927.1 L467.6 926.6 L469.6 927.6 L471.7 928.6 L473.8 928.2 L475.9 925.2 L477.9 928.5 L480 925.2 L482.1 926.9 L484.2 928.6 L486.3 925.2 L488.3 925.4 L490.4 925.5 L492.5 926.9 L494.6 927.2 L496.7 927.6 L498.7 927 L500.8 923.5 L502.9 924.9 L505 923.3 L507 926.1 L509.1 926.5 L511.2 924.6 L511.2 943.4 L509.1 941.2 L507 942.1 L505 945.9 L502.9 942.1 L500.8 945.8 L498.7 945.1 L496.7 942.6 L494.6 945.6 L492.5 943.6 L490.4 944.1 L488.3 945.2 L486.3 945 L484.2 945.4 L482.1 943.3 L480 947.6 L477.9 944.6 L475.9 947.2 L473.8 943.5 L471.7 944.9 L469.6 945.3 L467.6 945 L465.5 943.4 L463.4 945.4ZM512 730.6 L514 731.4 L516 729.9 L518.1 729.4 L520.1 730.7 L522.1 730.7 L524.1 727.3 L526.2 728.7 L528.2 726.3 L530.2 727.8 L532.2 726.8 L534.3 727.7 L536.3 728.9 L538.3 729.5 L540.4 726 L542.4 728.7 L544.4 725.9 L546.4 727.4 L548.5 726.1 L550.5 728.6 L552.5 730.1 L554.5 727 L556.6 727.8 L558.6 726.4 L560.6 727.6 L560.6 746.4 L558.6 748.7 L556.6 746.5 L554.5 745.1 L552.5 746.7 L550.5 746 L548.5 745.2 L546.4 747 L544.4 747.3 L542.4 748 L540.4 746.1 L538.3 744.9 L536.3 746.6 L534.3 747.3 L532.2 744.6 L530.2 748.2 L528.2 748.3 L526.2 748 L524.1 748.2 L522.1 749 L520.1 747.8 L518.1 749.6 L516 750.9 L514 750.8 L512 749.4ZM562.6 925.6 L564.7 923.8 L566.7 926.3 L568.8 926.3 L570.8 925.6 L572.9 923.9 L575 927.4 L577 927.5 L579.1 925.6 L581.1 926.8 L583.2 924.3 L585.3 921.7 L587.3 924.8 L589.4 925.2 L591.5 924.8 L593.5 925.4 L595.6 921.8 L597.6 922.7 L599.7 926.2 L601.8 922.3 L603.8 926.8 L605.9 923.4 L607.9 924.8 L610 924.6 L610 943.4 L607.9 941.2 L605.9 943.2 L603.8 943.2 L601.8 944.8 L599.7 944 L597.6 943.1 L595.6 943.8 L593.5 942.4 L591.5 942.8 L589.4 942.5 L587.3 942 L585.3 944.6 L583.2 943.2 L581.1 941.6 L579.1 944.3 L577 945.5 L575 945.9 L572.9 944.6 L570.8 942.8 L568.8 942.6 L566.7 943 L564.7 946.7 L562.6 944.4ZM611.5 736.6 L613.5 734.7 L615.6 737.6 L617.6 733.6 L619.6 733.2 L621.7 733.2 L623.7 734.6 L625.8 735.6 L627.8 737.1 L629.8 735.7 L631.9 733.6 L633.9 733.5 L636 734.9 L638 736.9 L640 736.2 L642.1 733.2 L644.1 733.2 L646.1 735.9 L648.2 736.4 L650.2 732.7 L652.2 735.2 L654.3 736.4 L656.3 735.1 L658.4 737.7 L660.4 736.6 L660.4 755.4 L658.4 754.6 L656.3 754.6 L654.3 751.8 L652.2 752.1 L650.2 754.1 L648.2 754.7 L646.1 750.6 L644.1 755.1 L642.1 753.6 L640 752.7 L638 752.6 L636 755.6 L633.9 753.8 L631.9 754.2 L629.8 755.3 L627.8 753.8 L625.8 754.1 L623.7 753 L621.7 753.8 L619.6 754.1 L617.6 754 L615.6 754.5 L613.5 756.9 L611.5 755.4ZM662.4 925.6 L664.4 923.7 L666.5 924.4 L668.5 924.5 L670.5 923.9 L672.6 926.4 L674.6 927.4 L676.6 923.8 L678.7 926 L680.7 925.3 L682.7 922.5 L684.8 922.2 L686.8 925.1 L688.9 925.2 L690.9 925.3 L692.9 923.2 L695 925.1 L697 922.7 L699 922.7 L701.1 927.4 L703.1 924.3 L705.1 926.9 L707.2 925.4 L709.2 925.1 L709.2 943.9 L707.2 944.6 L705.1 945 L703.1 943.5 L701.1 944 L699 944.9 L697 942.4 L695 941 L692.9 942.9 L690.9 942.2 L688.9 943.6 L686.8 941.3 L684.8 941.9 L682.7 945.4 L680.7 944.3 L678.7 941.9 L676.6 942.2 L674.6 943.3 L672.6 943.5 L670.5 945.3 L668.5 946.9 L666.5 943.1 L664.4 946.1 L662.4 944.4ZM711.5 739.6 L713.5 737.2 L715.5 737.8 L717.6 739.4 L719.6 737.7 L721.6 741.3 L723.6 740.4 L725.7 738.7 L727.7 738.4 L729.7 738.3 L731.8 741.2 L733.8 737 L735.8 738.7 L737.8 739.2 L739.9 738.3 L741.9 736.4 L743.9 736 L745.9 736.4 L748 736.7 L750 734.8 L752 733.7 L754 737.5 L756.1 734 L758.1 736.2 L760.1 736.6 L760.1 755.4 L758.1 753.8 L756.1 756.4 L754 756.5 L752 753.5 L750 755.4 L748 754.6 L745.9 755.5 L743.9 757 L741.9 757.6 L739.9 755.7 L737.8 756.2 L735.8 755.8 L733.8 756 L731.8 757.4 L729.7 755.7 L727.7 756.4 L725.7 756.1 L723.6 758 L721.6 759.5 L719.6 759.5 L717.6 759.4 L715.5 757.5 L713.5 756.5 L711.5 758.4ZM761.6 925.1 L763.7 923 L765.8 926.2 L767.8 925 L769.9 923.8 L772 925.1 L774.1 925.9 L776.1 926.3 L778.2 925.7 L780.3 926.2 L782.4 923.3 L784.5 923.5 L786.5 925.6 L788.6 926.7 L790.7 923.1 L792.8 924.3 L794.9 924.6 L796.9 923.4 L799 926.3 L801.1 927.3 L803.2 924.6 L805.2 924 L807.3 925.8 L809.4 925.6 L809.4 944.4 L807.3 942.4 L805.2 942.2 L803.2 943.1 L801.1 942.4 L799 942.7 L796.9 942.9 L794.9 942.4 L792.8 942.4 L790.7 946.1 L788.6 946.1 L786.5 944.9 L784.5 941.1 L782.4 945.1 L780.3 942.5 L778.2 944.2 L776.1 943.6 L774.1 944.9 L772 941.6 L769.9 945.1 L767.8 942.9 L765.8 945 L763.7 944.9 L761.6 943.9ZM809 742.6 L811.1 741.9 L813.1 740.3 L815.2 743.3 L817.3 739.6 L819.4 742.7 L821.5 739.6 L823.5 742.8 L825.6 739.8 L827.7 742.1 L829.8 742.8 L831.8 740.6 L833.9 740.7 L836 737.5 L838 739.1 L840.1 733.8 L842.2 734.4 L844.3 734.3 L846.3 732.7 L848.4 733.9 L850.5 736 L852.6 733.4 L854.6 735.5 L856.7 737.5 L858.8 736.6 L858.8 755.4 L856.7 756.6 L854.6 752.4 L852.6 755.9 L850.5 755.1 L848.4 752.3 L846.3 749.5 L844.3 751.8 L842.2 750.9 L840.1 755.7 L838 757.5 L836 758.4 L833.9 758 L831.8 758.8 L829.8 761.4 L827.7 762.2 L825.6 759 L823.5 759.1 L821.5 758.1 L819.4 760 L817.3 760.3 L815.2 761.1 L813.1 760.1 L811.1 762.4 L809 761.4ZM860.9 922.6 L862.9 924.8 L865 924.2 L867 924.5 L869 923.4 L871.1 921.4 L873.1 920.4 L875.1 920 L877.2 922.8 L879.2 924.2 L881.2 921.8 L883.3 922.9 L885.3 923.5 L887.4 922.2 L889.4 919.1 L891.4 922.2 L893.5 921 L895.5 920.7 L897.5 920.7 L899.6 922 L901.6 919.2 L903.6 922.9 L905.7 919.3 L907.7 921.6 L907.7 940.4 L905.7 939.4 L903.6 938.7 L901.6 939.6 L899.6 940.9 L897.5 942.4 L895.5 939.2 L893.5 938 L891.4 941 L889.4 939.6 L887.4 940.1 L885.3 938.2 L883.3 942.4 L881.2 939 L879.2 938.9 L877.2 940.9 L875.1 938.8 L873.1 942.3 L871.1 940.1 L869 942.7 L867 941.8 L865 939.5 L862.9 940.7 L860.9 941.4ZM909.5 741.6 L911.5 742.9 L913.6 743.5 L915.6 743.5 L917.7 743.2 L919.7 741.1 L921.8 740.1 L923.8 738.8 L925.9 741.9 L927.9 743.2 L930 740.5 L932 743.1 L934 739 L936.1 739.2 L938.1 738.9 L940.2 741.2 L942.2 741.9 L944.3 742.3 L946.3 742.3 L948.4 741.2 L950.4 741.1 L952.5 738.1 L954.5 737.7 L956.6 741.1 L958.6 740.1 L958.6 758.9 L956.6 757.8 L954.5 760.5 L952.5 758.7 L950.4 759.4 L948.4 759.2 L946.3 758.6 L944.3 756.7 L942.2 760.1 L940.2 760.6 L938.1 759.8 L936.1 757.3 L934 758.4 L932 761.7 L930 759.7 L927.9 760.5 L925.9 757.7 L923.8 762.3 L921.8 760.7 L919.7 762.4 L917.7 762.2 L915.6 762.4 L913.6 762 L911.5 759.7 L909.5 760.4ZM960.7 923.6 L962.7 924.5 L964.8 923.1 L966.8 924.2 L968.8 921.9 L970.9 923.9 L972.9 923.8 L974.9 925.1 L977 926.7 L979 924.8 L981 925.4 L983.1 927 L985.1 927 L987.2 923.9 L989.2 926.1 L991.2 924.2 L993.3 923.3 L995.3 926 L997.3 925 L999.4 922.9 L1001.4 922.3 L1003.4 925.4 L1005.5 925.5 L1007.5 924.1 L1007.5 942.9 L1005.5 942.3 L1003.4 942.1 L1001.4 942.4 L999.4 941.7 L997.3 943.5 L995.3 941.3 L993.3 945.2 L991.2 945.3 L989.2 944.6 L987.2 942.7 L985.1 942.7 L983.1 945.1 L981 946.1 L979 942.9 L977 943.2 L974.9 945.1 L972.9 942.1 L970.9 940.3 L968.8 943.9 L966.8 940.4 L964.8 943.9 L962.7 941.6 L960.7 942.4ZM1009 742.6 L1011 742.7 L1013.1 740.9 L1015.1 743.4 L1017.2 741 L1019.2 741.2 L1021.3 745.1 L1023.3 742.7 L1025.4 742.9 L1027.4 745 L1029.5 742.7 L1031.5 742.9 L1033.5 741.9 L1035.6 740.1 L1037.6 743.5 L1039.7 740.8 L1041.7 740.2 L1043.8 737.7 L1045.8 736.3 L1047.9 739.1 L1049.9 736.2 L1052 738.8 L1054 735.8 L1056.1 735.1 L1058.1 736.6 L1058.1 755.4 L1056.1 756.9 L1054 756.2 L1052 756 L1049.9 755.5 L1047.9 757.2 L1045.8 756.7 L1043.8 756.8 L1041.7 756.1 L1039.7 759.9 L1037.6 761.4 L1035.6 762.8 L1033.5 759.9 L1031.5 762.9 L1029.5 761.2 L1027.4 762.4 L1025.4 760.9 L1023.3 762.6 L1021.3 761.7 L1019.2 760.3 L1017.2 762.9 L1015.1 761.8 L1013.1 760 L1011 760.5 L1009 761.4ZM1060.2 921.6 L1062.2 921.5 L1064.3 921 L1066.3 923.9 L1068.3 920.2 L1070.4 920 L1072.4 922.3 L1074.4 921.4 L1076.5 919.3 L1078.5 922.2 L1080.5 919.5 L1082.6 919.2 L1084.6 922.4 L1086.7 919.9 L1088.7 921.2 L1090.7 922 L1092.8 922.1 L1094.8 921.8 L1096.8 922.4 L1098.9 919.9 L1100.9 922.3 L1102.9 921.8 L1105 921.6 L1107 921.6 L1107 940.4 L1105 942.5 L1102.9 940.6 L1100.9 942.2 L1098.9 938.9 L1096.8 939.3 L1094.8 940.4 L1092.8 938.6 L1090.7 939.9 L1088.7 938.9 L1086.7 938.2 L1084.6 939.1 L1082.6 939.9 L1080.5 938 L1078.5 941.6 L1076.5 940.5 L1074.4 938.5 L1072.4 942.3 L1070.4 940.1 L1068.3 938.7 L1066.3 941.6 L1064.3 939.7 L1062.2 938.6 L1060.2 940.4ZM1107 741.6 L1109.1 739.9 L1111.2 742 L1113.2 738.4 L1115.3 739.2 L1117.4 739.2 L1119.5 740.2 L1121.6 739.7 L1123.6 738.4 L1125.7 739.2 L1127.8 737.9 L1129.9 740.2 L1132 737.6 L1134 739.6 L1136.1 737 L1138.2 737.8 L1140.3 736.5 L1142.3 738.6 L1144.4 740.5 L1146.5 737.5 L1148.6 738.4 L1150.7 740.6 L1152.7 740.2 L1154.8 740.9 L1156.9 739.1 L1156.9 757.9 L1154.8 756.7 L1152.7 759.2 L1150.7 757.4 L1148.6 755 L1146.5 755.2 L1144.4 755.2 L1142.3 757.4 L1140.3 759.3 L1138.2 756.3 L1136.1 759 L1134 758.1 L1132 757.6 L1129.9 757.4 L1127.8 756.1 L1125.7 758.6 L1123.6 759.9 L1121.6 756.2 L1119.5 757.2 L1117.4 758.1 L1115.3 760.5 L1113.2 757.9 L1111.2 762.2 L1109.1 759.4 L1107 760.4ZM1158.9 920.6 L1160.9 921.3 L1162.9 920.8 L1165 922 L1167 920.2 L1169 920.2 L1171 922.4 L1173 921.4 L1175.1 919.9 L1177.1 919.9 L1179.1 920.1 L1181.1 919.9 L1183.2 917.9 L1185.2 915.5 L1187.2 920.2 L1189.2 919.7 L1191.2 923.1 L1193.3 923.6 L1195.3 924.3 L1197.3 923.9 L1199.3 925.7 L1201.3 921.6 L1203.4 922.5 L1205.4 922.3 L1207.4 923.6 L1207.4 942.4 L1205.4 944.3 L1203.4 941.2 L1201.3 942.6 L1199.3 942.1 L1197.3 943.3 L1195.3 940.4 L1193.3 940.8 L1191.2 940.7 L1189.2 936.8 L1187.2 935.5 L1185.2 938 L1183.2 937 L1181.1 939 L1179.1 935.4 L1177.1 937.5 L1175.1 938.5 L1173 936.3 L1171 940.9 L1169 941.2 L1167 938.4 L1165 937.2 L1162.9 937.3 L1160.9 940.8 L1158.9 939.4ZM1208.5 743.6 L1210.6 743.8 L1212.7 745.3 L1214.8 743.5 L1216.9 745.7 L1219 742.1 L1221.1 743 L1223.2 742.1 L1225.2 743.2 L1227.3 743.4 L1229.4 740.9 L1231.5 742.2 L1233.6 739.6 L1235.7 738.7 L1237.8 741.4 L1239.9 741 L1242 741.6 L1242 760.4 L1239.9 758.7 L1237.8 761.5 L1235.7 761 L1233.6 759.1 L1231.5 762.1 L1229.4 758.8 L1227.3 760.6 L1225.2 762.3 L1223.2 762.7 L1221.1 762.9 L1219 762.7 L1216.9 764.1 L1214.8 763 L1212.7 764.4 L1210.6 763.3 L1208.5 762.4Z"/>
</g>
</g>
<g stroke-width="7.8" stroke-linecap="butt">
<line x1="178.2" y1="125.6" x2="319.6" y2="125.6" stroke="#000"/>
<line x1="566.5" y1="125.6" x2="709.8" y2="125.6" stroke="#f00"/>
<line x1="939.2" y1="125.2" x2="1082" y2="125.2" stroke="#00f"/>
</g>
<text transform="translate(333.00 146.20) scale(1 1.04)" font-size="61" fill="#000">380</text><text transform="translate(451.72 146.20) scale(1 0.955)" font-size="61" fill="#000">nm</text>
<text transform="translate(723.30 146.20) scale(1 1.04)" font-size="61" fill="#000">550</text><text transform="translate(842.02 146.20) scale(1 0.955)" font-size="61" fill="#000">nm</text>
<text transform="translate(1095.60 145.20) scale(1 1.04)" font-size="61" fill="#000">750</text><text transform="translate(1214.32 145.20) scale(1 0.955)" font-size="61" fill="#000">nm</text>
<text transform="translate(1267.30 327.30) scale(1 1.04)" font-size="51.2" fill="#000">23</text><text transform="translate(1324.25 328.10) scale(1 1.07)" font-size="51.2" fill="#000">%</text>
<text transform="translate(1273.50 562.60) scale(1 1.04)" font-size="51.2" fill="#f00">25</text><text transform="translate(1330.45 563.40) scale(1 1.07)" font-size="51.2" fill="#f00">%</text>
<text transform="translate(1263.50 860.20) scale(1 1.04)" font-size="51.2" fill="#00f">24</text><text transform="translate(1320.45 861.00) scale(1 1.07)" font-size="51.2" fill="#00f">%</text>
</svg>
</body></html>
